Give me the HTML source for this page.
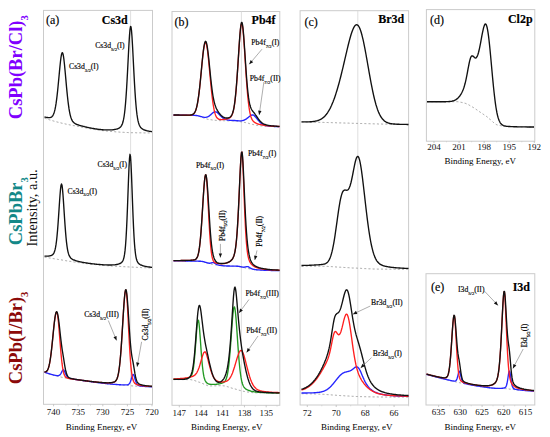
<!DOCTYPE html>
<html><head><meta charset="utf-8"><style>
html,body{margin:0;padding:0;background:#fff;overflow:hidden;}
svg{display:block;}
text{font-family:"Liberation Serif", serif;}
</style></head><body>
<svg width="550" height="437" viewBox="0 0 550 437">
<rect width="550" height="437" fill="#fff"/>
<rect x="43.5" y="10.4" width="109.00" height="393.90" fill="none" stroke="#cbcbcb" stroke-width="1"/>
<rect x="172.0" y="11.5" width="107.80" height="393.80" fill="none" stroke="#cbcbcb" stroke-width="1"/>
<rect x="300.1" y="10.7" width="108.50" height="394.30" fill="none" stroke="#cbcbcb" stroke-width="1"/>
<rect x="426.4" y="9.6" width="108.40" height="131.60" fill="none" stroke="#cbcbcb" stroke-width="1"/>
<rect x="426" y="273.7" width="108.80" height="131.30" fill="none" stroke="#cbcbcb" stroke-width="1"/>
<line x1="130.6" y1="11" x2="130.6" y2="404.3" stroke="#d6d6d6" stroke-width="0.8"/>
<line x1="241.4" y1="11.3" x2="241.4" y2="405" stroke="#d6d6d6" stroke-width="0.8"/>
<line x1="357.8" y1="10.8" x2="357.8" y2="405" stroke="#d6d6d6" stroke-width="0.8"/>
<path d="M44.5 118.1L45.0 118.3L45.5 118.5L46.0 118.6L46.5 118.8L47.0 119.0L47.5 119.1L48.0 119.3L48.5 119.4L49.0 119.6L49.5 119.8L50.0 119.9L50.5 120.1L51.0 120.2L51.5 120.4L52.0 120.5L52.5 120.7L53.0 120.8L53.5 121.0L54.0 121.1L54.5 121.3L55.0 121.4L55.5 121.5L56.0 121.7L56.5 121.8L57.0 121.9L57.5 122.1L58.0 122.2L58.5 122.3L59.0 122.5L59.5 122.6L60.0 122.7L60.5 122.8L61.0 122.9L61.5 123.1L62.0 123.2L62.5 123.3L63.0 123.4L63.5 123.5L64.0 123.6L64.5 123.7L65.0 123.8L65.5 124.0L66.0 124.1L66.5 124.2L67.0 124.3L67.5 124.4L68.0 124.5L68.5 124.6L69.0 124.7L69.5 124.8L70.0 124.9L70.5 125.0L71.0 125.1L71.5 125.2L72.0 125.3L72.5 125.4L73.0 125.5L73.5 125.6L74.0 125.7L74.5 125.7L75.0 125.8L75.5 125.9L76.0 126.0L76.5 126.1L77.0 126.2L77.5 126.3L78.0 126.4L78.5 126.5L79.0 126.6L79.5 126.7L80.0 126.8L80.5 126.9L81.0 127.0L81.5 127.1L82.0 127.2L82.5 127.3L83.0 127.4L83.5 127.4L84.0 127.5L84.5 127.6L85.0 127.7L85.5 127.8L86.0 127.9L86.5 128.0L87.0 128.1L87.5 128.2L88.0 128.3L88.5 128.4L89.0 128.5L89.5 128.6L90.0 128.7L90.5 128.8L91.0 128.9L91.5 129.0L92.0 129.1L92.5 129.1L93.0 129.2L93.5 129.3L94.0 129.4L94.5 129.5L95.0 129.6L95.5 129.7L96.0 129.7L96.5 129.8L97.0 129.9L97.5 130.0L98.0 130.0L98.5 130.1L99.0 130.2L99.5 130.3L100.0 130.3L100.5 130.4L101.0 130.5L101.5 130.5L102.0 130.6L102.5 130.6L103.0 130.7L103.5 130.7L104.0 130.8L104.5 130.9L105.0 130.9L105.5 130.9L106.0 131.0L106.5 131.0L107.0 131.1L107.5 131.1L108.0 131.2L108.5 131.2L109.0 131.3L109.5 131.3L110.0 131.4L110.5 131.4L111.0 131.4L111.5 131.5L112.0 131.5L112.5 131.6L113.0 131.6L113.5 131.6L114.0 131.7L114.5 131.7L115.0 131.8L115.5 131.8L116.0 131.8L116.5 131.9L117.0 131.9L117.5 132.0L118.0 132.0L118.5 132.0L119.0 132.1L119.5 132.1L120.0 132.1L120.5 132.2L121.0 132.2L121.5 132.2L122.0 132.3L122.5 132.3L123.0 132.3L123.5 132.3L124.0 132.4L124.5 132.4L125.0 132.4L125.5 132.4L126.0 132.5L126.5 132.5L127.0 132.5L127.5 132.5L128.0 132.6L128.5 132.6L129.0 132.6L129.5 132.6L130.0 132.6L130.5 132.6L131.0 132.7L131.5 132.7L132.0 132.7L132.5 132.7L133.0 132.7L133.5 132.7L134.0 132.7L134.5 132.7L135.0 132.7L135.5 132.7L136.0 132.7L136.5 132.8L137.0 132.8L137.5 132.8L138.0 132.8L138.5 132.8L139.0 132.8L139.5 132.8L140.0 132.8L140.5 132.8L141.0 132.8L141.5 132.8L142.0 132.8L142.5 132.8L143.0 132.8L143.5 132.9L144.0 132.9L144.5 132.9L145.0 132.9L145.5 132.9L146.0 132.9L146.5 132.9L147.0 132.9L147.5 132.9L148.0 132.9L148.5 132.9L149.0 132.9L149.5 132.9L150.0 132.9L150.5 132.9L151.0 132.9L151.5 132.9L152.0 132.9" fill="none" stroke="#8a8a8a" stroke-width="0.8" stroke-dasharray="2,2.2"/>
<path d="M44.5 117.0L45.0 117.1L45.5 117.2L46.0 117.3L46.5 117.4L47.0 117.5L47.5 117.5L48.0 117.6L48.5 117.6L49.0 117.6L49.5 117.6L50.0 117.6L50.5 117.4L51.0 117.3L51.5 117.0L52.0 116.6L52.5 116.1L53.0 115.3L53.5 114.3L54.0 113.0L54.5 111.4L55.0 109.4L55.5 106.9L56.0 103.9L56.5 100.4L57.0 96.4L57.5 91.9L58.0 87.0L58.5 81.8L59.0 76.5L59.5 71.1L60.0 66.0L60.5 61.3L61.0 57.4L61.5 54.5L62.0 52.9L62.5 52.7L63.0 54.0L63.5 56.5L64.0 60.2L64.5 64.8L65.0 70.0L65.5 75.5L66.0 81.1L66.5 86.7L67.0 91.9L67.5 96.8L68.0 101.3L68.5 105.2L69.0 108.7L69.5 111.6L70.0 114.1L70.5 116.1L71.0 117.8L71.5 119.1L72.0 120.2L72.5 121.1L73.0 121.8L73.5 122.3L74.0 122.8L74.5 123.2L75.0 123.5L75.5 123.8L76.0 124.0L76.5 124.3L77.0 124.5L77.5 124.6L78.0 124.8L78.5 125.0L79.0 125.2L79.5 125.3L80.0 125.5L80.5 125.6L81.0 125.8L81.5 125.9L82.0 126.0L82.5 126.2L83.0 126.3L83.5 126.4L84.0 126.5L84.5 126.7L85.0 126.8L85.5 126.9L86.0 127.0L86.5 127.1L87.0 127.3L87.5 127.4L88.0 127.5L88.5 127.6L89.0 127.7L89.5 127.8L90.0 127.9L90.5 128.0L91.0 128.1L91.5 128.2L92.0 128.3L92.5 128.4L93.0 128.5L93.5 128.5L94.0 128.6L94.5 128.7L95.0 128.8L95.5 128.9L96.0 129.0L96.5 129.0L97.0 129.1L97.5 129.2L98.0 129.2L98.5 129.3L99.0 129.4L99.5 129.4L100.0 129.5L100.5 129.5L101.0 129.6L101.5 129.6L102.0 129.7L102.5 129.7L103.0 129.7L103.5 129.8L104.0 129.8L104.5 129.8L105.0 129.9L105.5 129.9L106.0 129.9L106.5 129.9L107.0 129.9L107.5 129.9L108.0 129.9L108.5 129.9L109.0 129.9L109.5 129.9L110.0 129.9L110.5 129.9L111.0 129.9L111.5 129.8L112.0 129.8L112.5 129.8L113.0 129.7L113.5 129.7L114.0 129.6L114.5 129.5L115.0 129.4L115.5 129.3L116.0 129.2L116.5 129.1L117.0 129.0L117.5 128.8L118.0 128.6L118.5 128.4L119.0 128.1L119.5 127.8L120.0 127.4L120.5 127.0L121.0 126.4L121.5 125.6L122.0 124.7L122.5 123.5L123.0 121.8L123.5 119.7L124.0 117.0L124.5 113.5L125.0 109.1L125.5 103.8L126.0 97.4L126.5 90.0L127.0 81.5L127.5 72.3L128.0 62.5L128.5 52.7L129.0 43.4L129.5 35.4L130.0 29.5L130.5 26.5L131.0 26.9L131.5 30.5L132.0 36.9L132.5 45.3L133.0 54.8L133.5 64.7L134.0 74.4L134.5 83.5L135.0 91.8L135.5 99.1L136.0 105.3L136.5 110.5L137.0 114.7L137.5 118.0L138.0 120.7L138.5 122.7L139.0 124.3L139.5 125.5L140.0 126.4L140.5 127.2L141.0 127.8L141.5 128.3L142.0 128.7L142.5 129.0L143.0 129.3L143.5 129.6L144.0 129.8L144.5 130.0L145.0 130.2L145.5 130.4L146.0 130.5L146.5 130.7L147.0 130.8L147.5 130.9L148.0 131.0L148.5 131.1L149.0 131.2L149.5 131.3L150.0 131.4L150.5 131.4L151.0 131.5L151.5 131.6L152.0 131.6" fill="none" stroke="#111" stroke-width="1.35" stroke-linejoin="round"/>
<path d="M44.5 257.1L45.0 257.2L45.5 257.3L46.0 257.4L46.5 257.5L47.0 257.5L47.5 257.6L48.0 257.7L48.5 257.8L49.0 257.9L49.5 258.0L50.0 258.1L50.5 258.1L51.0 258.2L51.5 258.3L52.0 258.4L52.5 258.5L53.0 258.6L53.5 258.6L54.0 258.7L54.5 258.8L55.0 258.9L55.5 259.0L56.0 259.0L56.5 259.1L57.0 259.2L57.5 259.3L58.0 259.4L58.5 259.5L59.0 259.5L59.5 259.6L60.0 259.7L60.5 259.8L61.0 259.9L61.5 259.9L62.0 260.0L62.5 260.1L63.0 260.2L63.5 260.3L64.0 260.4L64.5 260.4L65.0 260.5L65.5 260.6L66.0 260.7L66.5 260.8L67.0 260.8L67.5 260.9L68.0 261.0L68.5 261.1L69.0 261.2L69.5 261.3L70.0 261.3L70.5 261.4L71.0 261.5L71.5 261.6L72.0 261.7L72.5 261.7L73.0 261.8L73.5 261.9L74.0 262.0L74.5 262.0L75.0 262.1L75.5 262.2L76.0 262.3L76.5 262.3L77.0 262.4L77.5 262.5L78.0 262.5L78.5 262.6L79.0 262.7L79.5 262.7L80.0 262.8L80.5 262.9L81.0 262.9L81.5 263.0L82.0 263.0L82.5 263.1L83.0 263.2L83.5 263.2L84.0 263.3L84.5 263.4L85.0 263.4L85.5 263.5L86.0 263.6L86.5 263.6L87.0 263.7L87.5 263.7L88.0 263.8L88.5 263.9L89.0 263.9L89.5 264.0L90.0 264.0L90.5 264.1L91.0 264.1L91.5 264.2L92.0 264.3L92.5 264.3L93.0 264.4L93.5 264.4L94.0 264.5L94.5 264.5L95.0 264.6L95.5 264.6L96.0 264.7L96.5 264.7L97.0 264.8L97.5 264.8L98.0 264.9L98.5 264.9L99.0 265.0L99.5 265.0L100.0 265.1L100.5 265.1L101.0 265.2L101.5 265.2L102.0 265.3L102.5 265.3L103.0 265.3L103.5 265.4L104.0 265.4L104.5 265.5L105.0 265.5L105.5 265.5L106.0 265.6L106.5 265.6L107.0 265.7L107.5 265.7L108.0 265.7L108.5 265.8L109.0 265.8L109.5 265.8L110.0 265.9L110.5 265.9L111.0 265.9L111.5 266.0L112.0 266.0L112.5 266.0L113.0 266.1L113.5 266.1L114.0 266.1L114.5 266.2L115.0 266.2L115.5 266.2L116.0 266.2L116.5 266.3L117.0 266.3L117.5 266.3L118.0 266.4L118.5 266.4L119.0 266.4L119.5 266.4L120.0 266.5L120.5 266.5L121.0 266.5L121.5 266.6L122.0 266.6L122.5 266.6L123.0 266.6L123.5 266.7L124.0 266.7L124.5 266.7L125.0 266.7L125.5 266.8L126.0 266.8L126.5 266.8L127.0 266.8L127.5 266.9L128.0 266.9L128.5 266.9L129.0 266.9L129.5 267.0L130.0 267.0L130.5 267.0L131.0 267.1L131.5 267.1L132.0 267.1L132.5 267.1L133.0 267.2L133.5 267.2L134.0 267.2L134.5 267.2L135.0 267.2L135.5 267.3L136.0 267.3L136.5 267.3L137.0 267.3L137.5 267.4L138.0 267.4L138.5 267.4L139.0 267.4L139.5 267.5L140.0 267.5L140.5 267.5L141.0 267.5L141.5 267.6L142.0 267.6L142.5 267.6L143.0 267.6L143.5 267.6L144.0 267.7L144.5 267.7L145.0 267.7L145.5 267.7L146.0 267.7L146.5 267.8L147.0 267.8L147.5 267.8L148.0 267.8L148.5 267.9L149.0 267.9L149.5 267.9L150.0 267.9L150.5 267.9L151.0 268.0L151.5 268.0L152.0 268.0" fill="none" stroke="#8a8a8a" stroke-width="0.8" stroke-dasharray="2,2.2"/>
<path d="M44.5 256.1L45.0 256.1L45.5 256.1L46.0 256.1L46.5 256.1L47.0 256.1L47.5 256.1L48.0 256.1L48.5 256.1L49.0 256.0L49.5 255.9L50.0 255.9L50.5 255.7L51.0 255.6L51.5 255.4L52.0 255.2L52.5 254.8L53.0 254.4L53.5 253.7L54.0 252.8L54.5 251.6L55.0 249.9L55.5 247.7L56.0 244.7L56.5 241.0L57.0 236.4L57.5 230.9L58.0 224.5L58.5 217.4L59.0 209.9L59.5 202.3L60.0 195.3L60.5 189.4L61.0 185.4L61.5 183.9L62.0 185.2L62.5 189.1L63.0 195.0L63.5 202.1L64.0 209.8L64.5 217.5L65.0 224.8L65.5 231.4L66.0 237.2L66.5 242.1L67.0 246.1L67.5 249.3L68.0 251.8L68.5 253.7L69.0 255.1L69.5 256.2L70.0 257.0L70.5 257.7L71.0 258.2L71.5 258.6L72.0 259.0L72.5 259.3L73.0 259.6L73.5 259.8L74.0 260.0L74.5 260.2L75.0 260.4L75.5 260.6L76.0 260.8L76.5 260.9L77.0 261.1L77.5 261.2L78.0 261.3L78.5 261.4L79.0 261.6L79.5 261.7L80.0 261.8L80.5 261.9L81.0 262.0L81.5 262.1L82.0 262.2L82.5 262.3L83.0 262.4L83.5 262.5L84.0 262.6L84.5 262.6L85.0 262.7L85.5 262.8L86.0 262.9L86.5 263.0L87.0 263.0L87.5 263.1L88.0 263.2L88.5 263.3L89.0 263.3L89.5 263.4L90.0 263.5L90.5 263.5L91.0 263.6L91.5 263.7L92.0 263.7L92.5 263.8L93.0 263.8L93.5 263.9L94.0 263.9L94.5 264.0L95.0 264.1L95.5 264.1L96.0 264.2L96.5 264.2L97.0 264.3L97.5 264.3L98.0 264.4L98.5 264.4L99.0 264.4L99.5 264.5L100.0 264.5L100.5 264.6L101.0 264.6L101.5 264.6L102.0 264.7L102.5 264.7L103.0 264.7L103.5 264.8L104.0 264.8L104.5 264.8L105.0 264.8L105.5 264.9L106.0 264.9L106.5 264.9L107.0 264.9L107.5 264.9L108.0 265.0L108.5 265.0L109.0 265.0L109.5 265.0L110.0 265.0L110.5 265.0L111.0 265.0L111.5 265.0L112.0 264.9L112.5 264.9L113.0 264.9L113.5 264.9L114.0 264.8L114.5 264.8L115.0 264.8L115.5 264.7L116.0 264.6L116.5 264.5L117.0 264.5L117.5 264.4L118.0 264.2L118.5 264.1L119.0 263.9L119.5 263.7L120.0 263.5L120.5 263.3L121.0 262.9L121.5 262.6L122.0 262.1L122.5 261.4L123.0 260.5L123.5 259.2L124.0 257.3L124.5 254.7L125.0 250.9L125.5 245.7L126.0 238.8L126.5 229.9L127.0 219.1L127.5 206.7L128.0 193.1L128.5 179.5L129.0 167.3L129.5 158.3L130.0 154.3L130.5 156.3L131.0 163.7L131.5 175.0L132.0 188.4L132.5 202.1L133.0 215.1L133.5 226.6L134.0 236.2L134.5 243.9L135.0 249.7L135.5 254.0L136.0 257.1L136.5 259.3L137.0 260.8L137.5 261.9L138.0 262.7L138.5 263.3L139.0 263.8L139.5 264.1L140.0 264.5L140.5 264.8L141.0 265.0L141.5 265.2L142.0 265.4L142.5 265.6L143.0 265.8L143.5 265.9L144.0 266.1L144.5 266.2L145.0 266.3L145.5 266.4L146.0 266.5L146.5 266.6L147.0 266.7L147.5 266.8L148.0 266.8L148.5 266.9L149.0 267.0L149.5 267.0L150.0 267.1L150.5 267.2L151.0 267.2L151.5 267.3L152.0 267.3" fill="none" stroke="#111" stroke-width="1.35" stroke-linejoin="round"/>
<path d="M44.5 372.3L45.0 372.4L45.5 372.6L46.0 372.8L46.5 373.0L47.0 373.2L47.5 373.3L48.0 373.5L48.5 373.7L49.0 373.8L49.5 374.0L50.0 374.1L50.5 374.3L51.0 374.4L51.5 374.6L52.0 374.7L52.5 374.9L53.0 375.0L53.5 375.2L54.0 375.3L54.5 375.4L55.0 375.6L55.5 375.7L56.0 375.8L56.5 376.0L57.0 376.1L57.5 376.2L58.0 376.3L58.5 376.5L59.0 376.6L59.5 376.7L60.0 376.8L60.5 376.9L61.0 377.0L61.5 377.2L62.0 377.3L62.5 377.4L63.0 377.5L63.5 377.6L64.0 377.7L64.5 377.8L65.0 377.9L65.5 378.0L66.0 378.1L66.5 378.2L67.0 378.3L67.5 378.3L68.0 378.4L68.5 378.5L69.0 378.6L69.5 378.7L70.0 378.8L70.5 378.9L71.0 378.9L71.5 379.0L72.0 379.1L72.5 379.2L73.0 379.2L73.5 379.3L74.0 379.4L74.5 379.5L75.0 379.5L75.5 379.6L76.0 379.7L76.5 379.7L77.0 379.8L77.5 379.9L78.0 380.0L78.5 380.0L79.0 380.1L79.5 380.2L80.0 380.2L80.5 380.3L81.0 380.4L81.5 380.4L82.0 380.5L82.5 380.6L83.0 380.6L83.5 380.7L84.0 380.8L84.5 380.9L85.0 380.9L85.5 381.0L86.0 381.1L86.5 381.1L87.0 381.2L87.5 381.3L88.0 381.3L88.5 381.4L89.0 381.5L89.5 381.5L90.0 381.6L90.5 381.7L91.0 381.7L91.5 381.8L92.0 381.9L92.5 381.9L93.0 382.0L93.5 382.1L94.0 382.1L94.5 382.2L95.0 382.3L95.5 382.3L96.0 382.4L96.5 382.5L97.0 382.5L97.5 382.6L98.0 382.6L98.5 382.7L99.0 382.8L99.5 382.8L100.0 382.9L100.5 383.0L101.0 383.0L101.5 383.1L102.0 383.1L102.5 383.2L103.0 383.3L103.5 383.3L104.0 383.4L104.5 383.4L105.0 383.5L105.5 383.5L106.0 383.6L106.5 383.6L107.0 383.7L107.5 383.7L108.0 383.8L108.5 383.9L109.0 383.9L109.5 384.0L110.0 384.0L110.5 384.0L111.0 384.1L111.5 384.1L112.0 384.2L112.5 384.2L113.0 384.3L113.5 384.3L114.0 384.4L114.5 384.4L115.0 384.4L115.5 384.5L116.0 384.5L116.5 384.6L117.0 384.6L117.5 384.7L118.0 384.7L118.5 384.7L119.0 384.8L119.5 384.8L120.0 384.9L120.5 384.9L121.0 384.9L121.5 385.0L122.0 385.0L122.5 385.0L123.0 385.1L123.5 385.1L124.0 385.2L124.5 385.2L125.0 385.2L125.5 385.3L126.0 385.3L126.5 385.4L127.0 385.4L127.5 385.4L128.0 385.5L128.5 385.5L129.0 385.6L129.5 385.6L130.0 385.6L130.5 385.7L131.0 385.7L131.5 385.8L132.0 385.8L132.5 385.9L133.0 385.9L133.5 385.9L134.0 386.0L134.5 386.0L135.0 386.1L135.5 386.1L136.0 386.1L136.5 386.2L137.0 386.2L137.5 386.2L138.0 386.3L138.5 386.3L139.0 386.3L139.5 386.3L140.0 386.4L140.5 386.4L141.0 386.4L141.5 386.4L142.0 386.5L142.5 386.5L143.0 386.5L143.5 386.5L144.0 386.5L144.5 386.6L145.0 386.6L145.5 386.6L146.0 386.6L146.5 386.6L147.0 386.7L147.5 386.7L148.0 386.7L148.5 386.7L149.0 386.7L149.5 386.7L150.0 386.7L150.5 386.8L151.0 386.8L151.5 386.8L152.0 386.8" fill="none" stroke="#8a8a8a" stroke-width="0.8" stroke-dasharray="2,2.2"/>
<path d="M44.5 372.2L45.0 372.4L45.5 372.6L46.0 372.7L46.5 372.9L47.0 373.1L47.5 373.2L48.0 373.4L48.5 373.6L49.0 373.7L49.5 373.9L50.0 374.0L50.5 374.2L51.0 374.3L51.5 374.4L52.0 374.6L52.5 374.7L53.0 374.8L53.5 375.0L54.0 375.1L54.5 375.2L55.0 375.3L55.5 375.4L56.0 375.5L56.5 375.6L57.0 375.6L57.5 375.7L58.0 375.7L58.5 375.6L59.0 375.4L59.5 375.2L60.0 374.7L60.5 374.1L61.0 373.3L61.5 372.4L62.0 371.4L62.5 370.5L63.0 369.9L63.5 369.8L64.0 370.3L64.5 371.3L65.0 372.5L65.5 373.7L66.0 374.7L66.5 375.7L67.0 376.4L67.5 377.0L68.0 377.4L68.5 377.7L69.0 378.0L69.5 378.2L70.0 378.3L70.5 378.5L71.0 378.6L71.5 378.7L72.0 378.8L72.5 378.9L73.0 379.0L73.5 379.1L74.0 379.2L74.5 379.3L75.0 379.4L75.5 379.5L76.0 379.5L76.5 379.6L77.0 379.7L77.5 379.8L78.0 379.9L78.5 379.9L79.0 380.0L79.5 380.1L80.0 380.2L80.5 380.2L81.0 380.3L81.5 380.4L82.0 380.4L82.5 380.5L83.0 380.6L83.5 380.7L84.0 380.7L84.5 380.8L85.0 380.9L85.5 380.9L86.0 381.0L86.5 381.1L87.0 381.2L87.5 381.2L88.0 381.3L88.5 381.4L89.0 381.4L89.5 381.5L90.0 381.6L90.5 381.6L91.0 381.7L91.5 381.8L92.0 381.8L92.5 381.9L93.0 382.0L93.5 382.0L94.0 382.1L94.5 382.2L95.0 382.2L95.5 382.3L96.0 382.4L96.5 382.4L97.0 382.5L97.5 382.6L98.0 382.6L98.5 382.7L99.0 382.7L99.5 382.8L100.0 382.9L100.5 382.9L101.0 383.0L101.5 383.0L102.0 383.1L102.5 383.2L103.0 383.2L103.5 383.3L104.0 383.3L104.5 383.4L105.0 383.4L105.5 383.5L106.0 383.5L106.5 383.6L107.0 383.7L107.5 383.7L108.0 383.8L108.5 383.8L109.0 383.9L109.5 383.9L110.0 383.9L110.5 384.0L111.0 384.0L111.5 384.1L112.0 384.1L112.5 384.2L113.0 384.2L113.5 384.3L114.0 384.3L114.5 384.3L115.0 384.4L115.5 384.4L116.0 384.5L116.5 384.5L117.0 384.5L117.5 384.6L118.0 384.6L118.5 384.6L119.0 384.7L119.5 384.7L120.0 384.7L120.5 384.7L121.0 384.8L121.5 384.8L122.0 384.8L122.5 384.9L123.0 384.9L123.5 384.9L124.0 384.9L124.5 384.9L125.0 384.9L125.5 384.9L126.0 384.9L126.5 384.9L127.0 384.8L127.5 384.8L128.0 384.6L128.5 384.4L129.0 384.0L129.5 383.4L130.0 382.6L130.5 381.4L131.0 380.0L131.5 378.3L132.0 376.7L132.5 375.2L133.0 374.5L133.5 374.6L134.0 375.6L134.5 377.2L135.0 379.0L135.5 380.7L136.0 382.1L136.5 383.3L137.0 384.2L137.5 384.8L138.0 385.2L138.5 385.5L139.0 385.7L139.5 385.8L140.0 385.9L140.5 386.0L141.0 386.1L141.5 386.1L142.0 386.2L142.5 386.2L143.0 386.3L143.5 386.3L144.0 386.4L144.5 386.4L145.0 386.4L145.5 386.5L146.0 386.5L146.5 386.5L147.0 386.5L147.5 386.6L148.0 386.6L148.5 386.6L149.0 386.6L149.5 386.7L150.0 386.7L150.5 386.7L151.0 386.7L151.5 386.7L152.0 386.7" fill="none" stroke="#2424ff" stroke-width="1.35" stroke-linejoin="round"/>
<path d="M44.5 371.9L45.0 371.9L45.5 371.8L46.0 371.7L46.5 371.4L47.0 370.9L47.5 370.1L48.0 369.1L48.5 367.8L49.0 366.0L49.5 363.8L50.0 361.1L50.5 357.9L51.0 354.2L51.5 350.0L52.0 345.5L52.5 340.6L53.0 335.6L53.5 330.5L54.0 325.8L54.5 321.4L55.0 317.7L55.5 314.8L56.0 312.9L56.5 312.1L57.0 312.5L57.5 314.6L58.0 318.1L58.5 323.0L59.0 328.7L59.5 335.0L60.0 341.4L60.5 347.6L61.0 353.5L61.5 358.7L62.0 363.2L62.5 366.9L63.0 369.9L63.5 372.2L64.0 374.0L64.5 375.3L65.0 376.2L65.5 376.9L66.0 377.4L66.5 377.7L67.0 377.9L67.5 378.1L68.0 378.3L68.5 378.4L69.0 378.5L69.5 378.6L70.0 378.7L70.5 378.7L71.0 378.8L71.5 378.9L72.0 379.0L72.5 379.1L73.0 379.1L73.5 379.2L74.0 379.3L74.5 379.3L75.0 379.4L75.5 379.5L76.0 379.5L76.5 379.6L77.0 379.7L77.5 379.8L78.0 379.8L78.5 379.9L79.0 379.9L79.5 380.0L80.0 380.1L80.5 380.1L81.0 380.2L81.5 380.3L82.0 380.3L82.5 380.4L83.0 380.5L83.5 380.5L84.0 380.6L84.5 380.7L85.0 380.7L85.5 380.8L86.0 380.9L86.5 380.9L87.0 381.0L87.5 381.0L88.0 381.1L88.5 381.2L89.0 381.2L89.5 381.3L90.0 381.4L90.5 381.4L91.0 381.5L91.5 381.5L92.0 381.6L92.5 381.6L93.0 381.7L93.5 381.8L94.0 381.8L94.5 381.9L95.0 381.9L95.5 382.0L96.0 382.0L96.5 382.1L97.0 382.1L97.5 382.2L98.0 382.2L98.5 382.3L99.0 382.3L99.5 382.4L100.0 382.4L100.5 382.5L101.0 382.5L101.5 382.5L102.0 382.6L102.5 382.6L103.0 382.6L103.5 382.7L104.0 382.7L104.5 382.7L105.0 382.7L105.5 382.8L106.0 382.8L106.5 382.8L107.0 382.8L107.5 382.8L108.0 382.8L108.5 382.8L109.0 382.8L109.5 382.8L110.0 382.8L110.5 382.7L111.0 382.7L111.5 382.7L112.0 382.6L112.5 382.5L113.0 382.4L113.5 382.3L114.0 382.1L114.5 381.9L115.0 381.6L115.5 381.2L116.0 380.6L116.5 379.8L117.0 378.8L117.5 377.4L118.0 375.6L118.5 373.2L119.0 370.1L119.5 366.4L120.0 361.8L120.5 356.4L121.0 350.1L121.5 343.1L122.0 335.4L122.5 327.3L123.0 319.1L123.5 311.1L124.0 303.7L124.5 297.5L125.0 292.9L125.5 290.4L126.0 290.1L126.5 293.0L127.0 298.8L127.5 307.0L128.0 316.5L128.5 326.6L129.0 336.5L129.5 345.8L130.0 354.2L130.5 361.3L131.0 367.1L131.5 371.7L132.0 375.3L132.5 377.9L133.0 379.8L133.5 381.2L134.0 382.2L134.5 382.9L135.0 383.4L135.5 383.8L136.0 384.1L136.5 384.3L137.0 384.5L137.5 384.7L138.0 384.9L138.5 385.0L139.0 385.1L139.5 385.2L140.0 385.3L140.5 385.4L141.0 385.5L141.5 385.6L142.0 385.6L142.5 385.7L143.0 385.8L143.5 385.8L144.0 385.9L144.5 385.9L145.0 386.0L145.5 386.0L146.0 386.1L146.5 386.1L147.0 386.2L147.5 386.2L148.0 386.3L148.5 386.3L149.0 386.3L149.5 386.4L150.0 386.4L150.5 386.4L151.0 386.4L151.5 386.5L152.0 386.5" fill="none" stroke="#ff1f1f" stroke-width="1.35" stroke-linejoin="round"/>
<path d="M44.5 371.8L45.0 371.8L45.5 371.8L46.0 371.6L46.5 371.3L47.0 370.8L47.5 370.1L48.0 369.0L48.5 367.7L49.0 365.9L49.5 363.7L50.0 361.0L50.5 357.8L51.0 354.1L51.5 349.9L52.0 345.3L52.5 340.4L53.0 335.4L53.5 330.3L54.0 325.5L54.5 321.2L55.0 317.4L55.5 314.5L56.0 312.5L56.5 311.7L57.0 311.9L57.5 313.3L58.0 315.6L58.5 318.9L59.0 322.8L59.5 327.1L60.0 331.7L60.5 336.3L61.0 340.7L61.5 344.7L62.0 348.3L62.5 351.5L63.0 354.6L63.5 357.7L64.0 360.9L64.5 364.1L65.0 367.1L65.5 369.7L66.0 371.8L66.5 373.6L67.0 374.9L67.5 375.9L68.0 376.7L68.5 377.2L69.0 377.6L69.5 377.9L70.0 378.1L70.5 378.3L71.0 378.4L71.5 378.6L72.0 378.7L72.5 378.8L73.0 378.9L73.5 379.0L74.0 379.1L74.5 379.2L75.0 379.3L75.5 379.3L76.0 379.4L76.5 379.5L77.0 379.6L77.5 379.6L78.0 379.7L78.5 379.8L79.0 379.9L79.5 379.9L80.0 380.0L80.5 380.1L81.0 380.1L81.5 380.2L82.0 380.3L82.5 380.3L83.0 380.4L83.5 380.5L84.0 380.5L84.5 380.6L85.0 380.7L85.5 380.7L86.0 380.8L86.5 380.9L87.0 380.9L87.5 381.0L88.0 381.1L88.5 381.1L89.0 381.2L89.5 381.3L90.0 381.3L90.5 381.4L91.0 381.4L91.5 381.5L92.0 381.6L92.5 381.6L93.0 381.7L93.5 381.7L94.0 381.8L94.5 381.8L95.0 381.9L95.5 381.9L96.0 382.0L96.5 382.1L97.0 382.1L97.5 382.2L98.0 382.2L98.5 382.2L99.0 382.3L99.5 382.3L100.0 382.4L100.5 382.4L101.0 382.5L101.5 382.5L102.0 382.5L102.5 382.6L103.0 382.6L103.5 382.6L104.0 382.7L104.5 382.7L105.0 382.7L105.5 382.7L106.0 382.7L106.5 382.8L107.0 382.8L107.5 382.8L108.0 382.8L108.5 382.8L109.0 382.8L109.5 382.7L110.0 382.7L110.5 382.7L111.0 382.6L111.5 382.6L112.0 382.5L112.5 382.5L113.0 382.3L113.5 382.2L114.0 382.0L114.5 381.8L115.0 381.5L115.5 381.1L116.0 380.5L116.5 379.7L117.0 378.7L117.5 377.3L118.0 375.4L118.5 373.1L119.0 370.0L119.5 366.3L120.0 361.7L120.5 356.2L121.0 350.0L121.5 342.9L122.0 335.2L122.5 327.1L123.0 318.9L123.5 310.8L124.0 303.5L124.5 297.3L125.0 292.6L125.5 290.0L126.0 289.6L126.5 291.5L127.0 295.5L127.5 301.2L128.0 308.1L128.5 315.8L129.0 323.6L129.5 331.2L130.0 338.3L130.5 344.4L131.0 349.5L131.5 353.6L132.0 356.8L132.5 359.5L133.0 362.0L133.5 364.8L134.0 367.8L134.5 370.9L135.0 373.9L135.5 376.5L136.0 378.6L136.5 380.3L137.0 381.5L137.5 382.4L138.0 383.1L138.5 383.6L139.0 383.9L139.5 384.2L140.0 384.4L140.5 384.6L141.0 384.7L141.5 384.9L142.0 385.0L142.5 385.1L143.0 385.2L143.5 385.3L144.0 385.4L144.5 385.5L145.0 385.6L145.5 385.6L146.0 385.7L146.5 385.8L147.0 385.8L147.5 385.9L148.0 385.9L148.5 386.0L149.0 386.0L149.5 386.1L150.0 386.1L150.5 386.2L151.0 386.2L151.5 386.2L152.0 386.3" fill="none" stroke="#111" stroke-width="1.35" stroke-linejoin="round"/>
<path d="M173.5 115.2L174.0 115.2L174.5 115.2L175.0 115.2L175.5 115.2L176.0 115.2L176.5 115.2L177.0 115.2L177.5 115.2L178.0 115.2L178.5 115.2L179.0 115.2L179.5 115.2L180.0 115.2L180.5 115.2L181.0 115.3L181.5 115.3L182.0 115.3L182.5 115.3L183.0 115.3L183.5 115.3L184.0 115.3L184.5 115.3L185.0 115.3L185.5 115.3L186.0 115.3L186.5 115.4L187.0 115.4L187.5 115.4L188.0 115.4L188.5 115.4L189.0 115.4L189.5 115.4L190.0 115.4L190.5 115.5L191.0 115.5L191.5 115.5L192.0 115.5L192.5 115.5L193.0 115.5L193.5 115.5L194.0 115.6L194.5 115.6L195.0 115.6L195.5 115.6L196.0 115.7L196.5 115.7L197.0 115.8L197.5 115.9L198.0 116.0L198.5 116.2L199.0 116.3L199.5 116.5L200.0 116.6L200.5 116.8L201.0 117.0L201.5 117.2L202.0 117.3L202.5 117.5L203.0 117.7L203.5 117.9L204.0 118.1L204.5 118.2L205.0 118.4L205.5 118.6L206.0 118.7L206.5 118.9L207.0 119.0L207.5 119.2L208.0 119.3L208.5 119.4L209.0 119.4L209.5 119.5L210.0 119.6L210.5 119.7L211.0 119.8L211.5 119.8L212.0 119.9L212.5 120.0L213.0 120.0L213.5 120.1L214.0 120.2L214.5 120.2L215.0 120.3L215.5 120.3L216.0 120.4L216.5 120.4L217.0 120.5L217.5 120.5L218.0 120.5L218.5 120.5L219.0 120.6L219.5 120.6L220.0 120.6L220.5 120.6L221.0 120.6L221.5 120.6L222.0 120.7L222.5 120.7L223.0 120.7L223.5 120.7L224.0 120.7L224.5 120.7L225.0 120.7L225.5 120.7L226.0 120.7L226.5 120.7L227.0 120.8L227.5 120.8L228.0 120.8L228.5 120.8L229.0 120.8L229.5 120.8L230.0 120.8L230.5 120.8L231.0 120.8L231.5 120.9L232.0 120.9L232.5 120.9L233.0 120.9L233.5 120.9L234.0 121.0L234.5 121.0L235.0 121.0L235.5 121.0L236.0 121.1L236.5 121.1L237.0 121.2L237.5 121.2L238.0 121.3L238.5 121.4L239.0 121.4L239.5 121.5L240.0 121.6L240.5 121.7L241.0 121.8L241.5 121.9L242.0 121.9L242.5 122.0L243.0 122.1L243.5 122.2L244.0 122.3L244.5 122.4L245.0 122.5L245.5 122.6L246.0 122.7L246.5 122.8L247.0 122.9L247.5 123.0L248.0 123.2L248.5 123.3L249.0 123.4L249.5 123.6L250.0 123.7L250.5 123.8L251.0 124.0L251.5 124.1L252.0 124.2L252.5 124.4L253.0 124.5L253.5 124.6L254.0 124.7L254.5 124.9L255.0 125.0L255.5 125.1L256.0 125.2L256.5 125.3L257.0 125.4L257.5 125.4L258.0 125.5L258.5 125.6L259.0 125.6L259.5 125.7L260.0 125.7L260.5 125.8L261.0 125.8L261.5 125.9L262.0 125.9L262.5 126.0L263.0 126.0L263.5 126.1L264.0 126.1L264.5 126.2L265.0 126.2L265.5 126.2L266.0 126.3L266.5 126.3L267.0 126.3L267.5 126.4L268.0 126.4L268.5 126.4L269.0 126.5L269.5 126.5L270.0 126.5L270.5 126.5L271.0 126.5L271.5 126.6L272.0 126.6L272.5 126.6L273.0 126.6L273.5 126.6L274.0 126.7L274.5 126.7L275.0 126.7L275.5 126.7L276.0 126.7L276.5 126.7L277.0 126.8L277.5 126.8L278.0 126.8L278.5 126.8L279.0 126.8L279.5 126.8" fill="none" stroke="#8a8a8a" stroke-width="0.8" stroke-dasharray="2,2.2"/>
<path d="M173.5 115.1L174.0 115.1L174.5 115.1L175.0 115.1L175.5 115.1L176.0 115.1L176.5 115.1L177.0 115.1L177.5 115.2L178.0 115.2L178.5 115.2L179.0 115.2L179.5 115.2L180.0 115.2L180.5 115.2L181.0 115.2L181.5 115.2L182.0 115.2L182.5 115.2L183.0 115.2L183.5 115.2L184.0 115.2L184.5 115.2L185.0 115.2L185.5 115.2L186.0 115.2L186.5 115.2L187.0 115.3L187.5 115.3L188.0 115.3L188.5 115.3L189.0 115.3L189.5 115.3L190.0 115.3L190.5 115.3L191.0 115.3L191.5 115.3L192.0 115.3L192.5 115.4L193.0 115.4L193.5 115.4L194.0 115.4L194.5 115.4L195.0 115.4L195.5 115.4L196.0 115.5L196.5 115.5L197.0 115.6L197.5 115.7L198.0 115.8L198.5 115.9L199.0 116.0L199.5 116.2L200.0 116.3L200.5 116.4L201.0 116.6L201.5 116.7L202.0 116.8L202.5 117.0L203.0 117.1L203.5 117.2L204.0 117.3L204.5 117.3L205.0 117.4L205.5 117.4L206.0 117.3L206.5 117.2L207.0 117.1L207.5 116.9L208.0 116.7L208.5 116.4L209.0 116.1L209.5 115.7L210.0 115.3L210.5 114.9L211.0 114.4L211.5 114.0L212.0 113.5L212.5 113.1L213.0 112.7L213.5 112.4L214.0 112.1L214.5 111.9L215.0 111.8L215.5 111.8L216.0 111.9L216.5 112.1L217.0 112.4L217.5 112.7L218.0 113.2L218.5 113.7L219.0 114.2L219.5 114.7L220.0 115.2L220.5 115.8L221.0 116.3L221.5 116.8L222.0 117.2L222.5 117.7L223.0 118.0L223.5 118.4L224.0 118.7L224.5 119.0L225.0 119.2L225.5 119.4L226.0 119.6L226.5 119.7L227.0 119.9L227.5 120.0L228.0 120.1L228.5 120.1L229.0 120.2L229.5 120.2L230.0 120.3L230.5 120.3L231.0 120.4L231.5 120.4L232.0 120.4L232.5 120.4L233.0 120.5L233.5 120.5L234.0 120.5L234.5 120.5L235.0 120.5L235.5 120.6L236.0 120.6L236.5 120.6L237.0 120.7L237.5 120.7L238.0 120.7L238.5 120.8L239.0 120.8L239.5 120.8L240.0 120.8L240.5 120.8L241.0 120.8L241.5 120.8L242.0 120.7L242.5 120.6L243.0 120.5L243.5 120.4L244.0 120.2L244.5 120.0L245.0 119.7L245.5 119.4L246.0 119.1L246.5 118.8L247.0 118.4L247.5 118.0L248.0 117.6L248.5 117.2L249.0 116.7L249.5 116.3L250.0 116.0L250.5 115.6L251.0 115.3L251.5 115.1L252.0 115.0L252.5 115.0L253.0 115.0L253.5 115.2L254.0 115.5L254.5 115.9L255.0 116.4L255.5 116.9L256.0 117.5L256.5 118.1L257.0 118.7L257.5 119.3L258.0 120.0L258.5 120.6L259.0 121.1L259.5 121.7L260.0 122.2L260.5 122.7L261.0 123.1L261.5 123.5L262.0 123.9L262.5 124.2L263.0 124.5L263.5 124.7L264.0 125.0L264.5 125.2L265.0 125.3L265.5 125.5L266.0 125.6L266.5 125.7L267.0 125.8L267.5 125.9L268.0 126.0L268.5 126.0L269.0 126.1L269.5 126.1L270.0 126.2L270.5 126.2L271.0 126.2L271.5 126.3L272.0 126.3L272.5 126.4L273.0 126.4L273.5 126.4L274.0 126.4L274.5 126.5L275.0 126.5L275.5 126.5L276.0 126.5L276.5 126.6L277.0 126.6L277.5 126.6L278.0 126.6L278.5 126.6L279.0 126.6L279.5 126.7" fill="none" stroke="#2424ff" stroke-width="1.35" stroke-linejoin="round"/>
<path d="M173.5 115.1L174.0 115.1L174.5 115.1L175.0 115.1L175.5 115.1L176.0 115.1L176.5 115.1L177.0 115.1L177.5 115.1L178.0 115.1L178.5 115.1L179.0 115.1L179.5 115.1L180.0 115.1L180.5 115.1L181.0 115.1L181.5 115.1L182.0 115.1L182.5 115.2L183.0 115.2L183.5 115.2L184.0 115.2L184.5 115.2L185.0 115.2L185.5 115.2L186.0 115.2L186.5 115.2L187.0 115.2L187.5 115.2L188.0 115.2L188.5 115.2L189.0 115.2L189.5 115.2L190.0 115.2L190.5 115.2L191.0 115.1L191.5 115.0L192.0 114.9L192.5 114.7L193.0 114.4L193.5 114.1L194.0 113.6L194.5 112.9L195.0 112.0L195.5 111.0L196.0 109.6L196.5 107.9L197.0 105.9L197.5 103.4L198.0 100.5L198.5 97.2L199.0 93.4L199.5 89.1L200.0 84.5L200.5 79.6L201.0 74.4L201.5 69.2L202.0 64.0L202.5 59.0L203.0 54.4L203.5 50.4L204.0 47.1L204.5 44.6L205.0 43.0L205.5 42.5L206.0 43.1L206.5 44.6L207.0 47.1L207.5 50.5L208.0 54.7L208.5 59.4L209.0 64.5L209.5 69.9L210.0 75.4L210.5 80.8L211.0 86.0L211.5 91.0L212.0 95.5L212.5 99.6L213.0 103.3L213.5 106.5L214.0 109.2L214.5 111.5L215.0 113.4L215.5 114.9L216.0 116.1L216.5 117.1L217.0 117.8L217.5 118.3L218.0 118.7L218.5 119.0L219.0 119.3L219.5 119.4L220.0 119.5L220.5 119.5L221.0 119.6L221.5 119.6L222.0 119.6L222.5 119.5L223.0 119.5L223.5 119.4L224.0 119.4L224.5 119.3L225.0 119.3L225.5 119.2L226.0 119.1L226.5 119.0L227.0 118.9L227.5 118.8L228.0 118.6L228.5 118.5L229.0 118.2L229.5 118.0L230.0 117.6L230.5 117.2L231.0 116.7L231.5 115.9L232.0 115.0L232.5 113.8L233.0 112.2L233.5 110.2L234.0 107.7L234.5 104.6L235.0 100.9L235.5 96.4L236.0 91.2L236.5 85.2L237.0 78.6L237.5 71.5L238.0 63.9L238.5 56.1L239.0 48.4L239.5 41.1L240.0 34.6L240.5 29.2L241.0 25.5L241.5 23.6L242.0 23.7L242.5 25.9L243.0 29.9L243.5 35.4L244.0 42.2L244.5 49.6L245.0 57.5L245.5 65.5L246.0 73.2L246.5 80.6L247.0 87.3L247.5 93.4L248.0 98.7L248.5 103.3L249.0 107.2L249.5 110.4L250.0 113.1L250.5 115.2L251.0 116.9L251.5 118.3L252.0 119.4L252.5 120.2L253.0 120.9L253.5 121.5L254.0 121.9L254.5 122.3L255.0 122.7L255.5 122.9L256.0 123.2L256.5 123.4L257.0 123.6L257.5 123.8L258.0 124.0L258.5 124.1L259.0 124.3L259.5 124.4L260.0 124.5L260.5 124.6L261.0 124.7L261.5 124.8L262.0 124.9L262.5 125.0L263.0 125.1L263.5 125.2L264.0 125.3L264.5 125.4L265.0 125.4L265.5 125.5L266.0 125.6L266.5 125.6L267.0 125.7L267.5 125.7L268.0 125.8L268.5 125.8L269.0 125.9L269.5 125.9L270.0 126.0L270.5 126.0L271.0 126.0L271.5 126.1L272.0 126.1L272.5 126.2L273.0 126.2L273.5 126.2L274.0 126.3L274.5 126.3L275.0 126.3L275.5 126.3L276.0 126.4L276.5 126.4L277.0 126.4L277.5 126.4L278.0 126.5L278.5 126.5L279.0 126.5L279.5 126.5" fill="none" stroke="#ff1f1f" stroke-width="1.35" stroke-linejoin="round"/>
<path d="M173.5 115.1L174.0 115.0L174.5 115.0L175.0 115.0L175.5 115.0L176.0 115.0L176.5 115.0L177.0 115.0L177.5 115.0L178.0 115.0L178.5 115.0L179.0 115.0L179.5 115.1L180.0 115.1L180.5 115.1L181.0 115.1L181.5 115.1L182.0 115.1L182.5 115.1L183.0 115.1L183.5 115.1L184.0 115.1L184.5 115.1L185.0 115.1L185.5 115.1L186.0 115.1L186.5 115.1L187.0 115.1L187.5 115.1L188.0 115.1L188.5 115.1L189.0 115.1L189.5 115.1L190.0 115.1L190.5 115.0L191.0 115.0L191.5 114.9L192.0 114.7L192.5 114.5L193.0 114.3L193.5 113.9L194.0 113.4L194.5 112.7L195.0 111.8L195.5 110.7L196.0 109.4L196.5 107.7L197.0 105.6L197.5 103.1L198.0 100.2L198.5 96.9L199.0 93.1L199.5 88.8L200.0 84.2L200.5 79.2L201.0 74.0L201.5 68.7L202.0 63.5L202.5 58.5L203.0 53.8L203.5 49.7L204.0 46.3L204.5 43.7L205.0 42.0L205.5 41.3L206.0 41.6L206.5 43.0L207.0 45.2L207.5 48.3L208.0 52.1L208.5 56.4L209.0 61.1L209.5 66.1L210.0 71.1L210.5 76.0L211.0 80.7L211.5 85.1L212.0 89.2L212.5 92.8L213.0 96.0L213.5 98.7L214.0 101.1L214.5 103.1L215.0 104.8L215.5 106.3L216.0 107.6L216.5 108.7L217.0 109.7L217.5 110.6L218.0 111.4L218.5 112.2L219.0 112.9L219.5 113.5L220.0 114.1L220.5 114.7L221.0 115.2L221.5 115.7L222.0 116.1L222.5 116.5L223.0 116.9L223.5 117.2L224.0 117.4L224.5 117.6L225.0 117.8L225.5 117.9L226.0 118.0L226.5 118.0L227.0 118.0L227.5 118.0L228.0 117.9L228.5 117.8L229.0 117.6L229.5 117.4L230.0 117.1L230.5 116.7L231.0 116.2L231.5 115.5L232.0 114.5L232.5 113.3L233.0 111.8L233.5 109.8L234.0 107.3L234.5 104.2L235.0 100.4L235.5 95.9L236.0 90.7L236.5 84.8L237.0 78.1L237.5 70.9L238.0 63.3L238.5 55.5L239.0 47.7L239.5 40.4L240.0 33.8L240.5 28.4L241.0 24.5L241.5 22.5L242.0 22.5L242.5 24.5L243.0 28.3L243.5 33.6L244.0 40.1L244.5 47.2L245.0 54.8L245.5 62.3L246.0 69.6L246.5 76.5L247.0 82.8L247.5 88.3L248.0 93.1L248.5 97.2L249.0 100.5L249.5 103.2L250.0 105.3L250.5 107.0L251.0 108.3L251.5 109.3L252.0 110.1L252.5 110.8L253.0 111.5L253.5 112.1L254.0 112.7L254.5 113.4L255.0 114.0L255.5 114.8L256.0 115.5L256.5 116.2L257.0 117.0L257.5 117.7L258.0 118.4L258.5 119.1L259.0 119.8L259.5 120.4L260.0 121.0L260.5 121.5L261.0 122.0L261.5 122.5L262.0 122.9L262.5 123.2L263.0 123.6L263.5 123.9L264.0 124.1L264.5 124.3L265.0 124.5L265.5 124.7L266.0 124.9L266.5 125.0L267.0 125.1L267.5 125.2L268.0 125.3L268.5 125.4L269.0 125.5L269.5 125.6L270.0 125.6L270.5 125.7L271.0 125.8L271.5 125.8L272.0 125.9L272.5 125.9L273.0 126.0L273.5 126.0L274.0 126.0L274.5 126.1L275.0 126.1L275.5 126.1L276.0 126.2L276.5 126.2L277.0 126.2L277.5 126.3L278.0 126.3L278.5 126.3L279.0 126.3L279.5 126.4" fill="none" stroke="#111" stroke-width="1.35" stroke-linejoin="round"/>
<path d="M173.5 260.9L174.0 260.9L174.5 260.9L175.0 260.9L175.5 260.9L176.0 260.9L176.5 260.9L177.0 260.9L177.5 260.9L178.0 260.9L178.5 260.9L179.0 260.9L179.5 260.9L180.0 260.9L180.5 260.9L181.0 260.9L181.5 260.9L182.0 260.9L182.5 260.9L183.0 260.9L183.5 260.9L184.0 260.9L184.5 261.0L185.0 261.0L185.5 261.0L186.0 261.0L186.5 261.0L187.0 261.0L187.5 261.0L188.0 261.0L188.5 261.0L189.0 261.0L189.5 261.0L190.0 261.0L190.5 261.0L191.0 261.0L191.5 261.0L192.0 261.0L192.5 261.1L193.0 261.1L193.5 261.1L194.0 261.1L194.5 261.1L195.0 261.1L195.5 261.1L196.0 261.1L196.5 261.1L197.0 261.1L197.5 261.1L198.0 261.2L198.5 261.2L199.0 261.2L199.5 261.2L200.0 261.2L200.5 261.2L201.0 261.3L201.5 261.3L202.0 261.4L202.5 261.5L203.0 261.6L203.5 261.7L204.0 261.9L204.5 262.0L205.0 262.2L205.5 262.3L206.0 262.5L206.5 262.7L207.0 262.8L207.5 263.0L208.0 263.2L208.5 263.3L209.0 263.5L209.5 263.6L210.0 263.8L210.5 263.9L211.0 264.0L211.5 264.1L212.0 264.2L212.5 264.3L213.0 264.4L213.5 264.4L214.0 264.5L214.5 264.6L215.0 264.7L215.5 264.8L216.0 264.8L216.5 264.9L217.0 265.0L217.5 265.1L218.0 265.1L218.5 265.2L219.0 265.3L219.5 265.3L220.0 265.4L220.5 265.5L221.0 265.5L221.5 265.6L222.0 265.6L222.5 265.7L223.0 265.7L223.5 265.8L224.0 265.8L224.5 265.9L225.0 265.9L225.5 265.9L226.0 266.0L226.5 266.0L227.0 266.0L227.5 266.0L228.0 266.0L228.5 266.0L229.0 266.1L229.5 266.1L230.0 266.1L230.5 266.1L231.0 266.1L231.5 266.1L232.0 266.1L232.5 266.1L233.0 266.1L233.5 266.1L234.0 266.1L234.5 266.1L235.0 266.1L235.5 266.2L236.0 266.2L236.5 266.2L237.0 266.2L237.5 266.2L238.0 266.3L238.5 266.3L239.0 266.4L239.5 266.5L240.0 266.6L240.5 266.7L241.0 266.8L241.5 266.9L242.0 267.1L242.5 267.2L243.0 267.3L243.5 267.5L244.0 267.6L244.5 267.7L245.0 267.9L245.5 268.0L246.0 268.1L246.5 268.2L247.0 268.3L247.5 268.4L248.0 268.5L248.5 268.6L249.0 268.7L249.5 268.8L250.0 268.8L250.5 268.9L251.0 269.0L251.5 269.1L252.0 269.2L252.5 269.3L253.0 269.4L253.5 269.4L254.0 269.5L254.5 269.6L255.0 269.6L255.5 269.7L256.0 269.7L256.5 269.8L257.0 269.8L257.5 269.8L258.0 269.9L258.5 269.9L259.0 269.9L259.5 269.9L260.0 270.0L260.5 270.0L261.0 270.0L261.5 270.1L262.0 270.1L262.5 270.1L263.0 270.1L263.5 270.2L264.0 270.2L264.5 270.2L265.0 270.2L265.5 270.3L266.0 270.3L266.5 270.3L267.0 270.3L267.5 270.3L268.0 270.4L268.5 270.4L269.0 270.4L269.5 270.4L270.0 270.4L270.5 270.4L271.0 270.5L271.5 270.5L272.0 270.5L272.5 270.5L273.0 270.5L273.5 270.5L274.0 270.5L274.5 270.5L275.0 270.6L275.5 270.6L276.0 270.6L276.5 270.6L277.0 270.6L277.5 270.6L278.0 270.6L278.5 270.6L279.0 270.6L279.5 270.6" fill="none" stroke="#8a8a8a" stroke-width="0.8" stroke-dasharray="2,2.2"/>
<path d="M173.5 260.9L174.0 260.9L174.5 260.9L175.0 260.9L175.5 260.9L176.0 260.9L176.5 260.9L177.0 260.9L177.5 260.9L178.0 260.9L178.5 260.9L179.0 260.9L179.5 260.9L180.0 260.9L180.5 260.9L181.0 260.9L181.5 260.9L182.0 260.9L182.5 260.9L183.0 260.9L183.5 260.9L184.0 260.9L184.5 260.9L185.0 261.0L185.5 261.0L186.0 261.0L186.5 261.0L187.0 261.0L187.5 261.0L188.0 261.0L188.5 261.0L189.0 261.0L189.5 261.0L190.0 261.0L190.5 261.0L191.0 261.0L191.5 261.0L192.0 261.0L192.5 261.0L193.0 261.1L193.5 261.1L194.0 261.1L194.5 261.1L195.0 261.1L195.5 261.1L196.0 261.1L196.5 261.1L197.0 261.1L197.5 261.1L198.0 261.1L198.5 261.2L199.0 261.2L199.5 261.2L200.0 261.2L200.5 261.2L201.0 261.3L201.5 261.3L202.0 261.4L202.5 261.5L203.0 261.6L203.5 261.7L204.0 261.8L204.5 262.0L205.0 262.1L205.5 262.3L206.0 262.4L206.5 262.6L207.0 262.8L207.5 262.9L208.0 263.0L208.5 263.1L209.0 263.2L209.5 263.2L210.0 263.2L210.5 263.1L211.0 263.0L211.5 262.9L212.0 262.7L212.5 262.6L213.0 262.6L213.5 262.7L214.0 262.8L214.5 263.1L215.0 263.4L215.5 263.7L216.0 264.0L216.5 264.3L217.0 264.6L217.5 264.8L218.0 264.9L218.5 265.1L219.0 265.2L219.5 265.3L220.0 265.4L220.5 265.4L221.0 265.5L221.5 265.6L222.0 265.6L222.5 265.7L223.0 265.7L223.5 265.8L224.0 265.8L224.5 265.8L225.0 265.9L225.5 265.9L226.0 265.9L226.5 266.0L227.0 266.0L227.5 266.0L228.0 266.0L228.5 266.0L229.0 266.0L229.5 266.0L230.0 266.1L230.5 266.1L231.0 266.1L231.5 266.1L232.0 266.1L232.5 266.1L233.0 266.1L233.5 266.1L234.0 266.1L234.5 266.1L235.0 266.1L235.5 266.1L236.0 266.1L236.5 266.2L237.0 266.2L237.5 266.2L238.0 266.2L238.5 266.3L239.0 266.4L239.5 266.5L240.0 266.6L240.5 266.7L241.0 266.8L241.5 266.9L242.0 267.0L242.5 267.1L243.0 267.1L243.5 267.2L244.0 267.2L244.5 267.1L245.0 267.0L245.5 266.9L246.0 266.8L246.5 266.6L247.0 266.6L247.5 266.6L248.0 266.7L248.5 266.9L249.0 267.2L249.5 267.6L250.0 267.9L250.5 268.2L251.0 268.5L251.5 268.7L252.0 268.9L252.5 269.1L253.0 269.2L253.5 269.3L254.0 269.4L254.5 269.5L255.0 269.6L255.5 269.6L256.0 269.7L256.5 269.7L257.0 269.8L257.5 269.8L258.0 269.8L258.5 269.9L259.0 269.9L259.5 269.9L260.0 270.0L260.5 270.0L261.0 270.0L261.5 270.0L262.0 270.1L262.5 270.1L263.0 270.1L263.5 270.2L264.0 270.2L264.5 270.2L265.0 270.2L265.5 270.2L266.0 270.3L266.5 270.3L267.0 270.3L267.5 270.3L268.0 270.4L268.5 270.4L269.0 270.4L269.5 270.4L270.0 270.4L270.5 270.4L271.0 270.5L271.5 270.5L272.0 270.5L272.5 270.5L273.0 270.5L273.5 270.5L274.0 270.5L274.5 270.5L275.0 270.6L275.5 270.6L276.0 270.6L276.5 270.6L277.0 270.6L277.5 270.6L278.0 270.6L278.5 270.6L279.0 270.6L279.5 270.6" fill="none" stroke="#2424ff" stroke-width="1.35" stroke-linejoin="round"/>
<path d="M173.5 260.6L174.0 260.6L174.5 260.6L175.0 260.6L175.5 260.6L176.0 260.6L176.5 260.6L177.0 260.6L177.5 260.6L178.0 260.6L178.5 260.6L179.0 260.6L179.5 260.6L180.0 260.6L180.5 260.6L181.0 260.5L181.5 260.5L182.0 260.5L182.5 260.5L183.0 260.5L183.5 260.5L184.0 260.5L184.5 260.5L185.0 260.5L185.5 260.5L186.0 260.4L186.5 260.4L187.0 260.4L187.5 260.4L188.0 260.4L188.5 260.4L189.0 260.3L189.5 260.3L190.0 260.3L190.5 260.3L191.0 260.2L191.5 260.2L192.0 260.2L192.5 260.1L193.0 260.1L193.5 260.0L194.0 259.9L194.5 259.8L195.0 259.6L195.5 259.3L196.0 259.0L196.5 258.5L197.0 257.7L197.5 256.7L198.0 255.2L198.5 253.2L199.0 250.6L199.5 247.2L200.0 243.0L200.5 237.9L201.0 231.9L201.5 225.1L202.0 217.5L202.5 209.6L203.0 201.5L203.5 193.7L204.0 186.7L204.5 181.0L205.0 176.9L205.5 174.9L206.0 175.2L206.5 178.4L207.0 184.4L207.5 192.3L208.0 201.6L208.5 211.3L209.0 220.9L209.5 229.7L210.0 237.5L210.5 244.1L211.0 249.3L211.5 253.4L212.0 256.4L212.5 258.6L213.0 260.1L213.5 261.1L214.0 261.8L214.5 262.3L215.0 262.6L215.5 262.9L216.0 263.0L216.5 263.2L217.0 263.3L217.5 263.4L218.0 263.4L218.5 263.5L219.0 263.5L219.5 263.6L220.0 263.6L220.5 263.6L221.0 263.7L221.5 263.7L222.0 263.7L222.5 263.6L223.0 263.6L223.5 263.6L224.0 263.5L224.5 263.5L225.0 263.4L225.5 263.3L226.0 263.2L226.5 263.0L227.0 262.9L227.5 262.7L228.0 262.5L228.5 262.3L229.0 262.0L229.5 261.8L230.0 261.4L230.5 261.1L231.0 260.6L231.5 260.1L232.0 259.6L232.5 258.8L233.0 258.0L233.5 256.9L234.0 255.5L234.5 253.7L235.0 251.4L235.5 248.4L236.0 244.6L236.5 239.7L237.0 233.8L237.5 226.6L238.0 218.1L238.5 208.5L239.0 197.9L239.5 186.7L240.0 175.5L240.5 165.3L241.0 157.2L241.5 152.5L242.0 152.1L242.5 157.3L243.0 167.2L243.5 179.9L244.0 193.4L244.5 206.5L245.0 218.3L245.5 228.5L246.0 237.0L246.5 243.7L247.0 249.0L247.5 252.9L248.0 255.9L248.5 258.1L249.0 259.8L249.5 261.1L250.0 262.1L250.5 263.0L251.0 263.7L251.5 264.3L252.0 264.8L252.5 265.2L253.0 265.6L253.5 266.0L254.0 266.3L254.5 266.6L255.0 266.9L255.5 267.1L256.0 267.4L256.5 267.5L257.0 267.7L257.5 267.9L258.0 268.0L258.5 268.2L259.0 268.3L259.5 268.4L260.0 268.5L260.5 268.6L261.0 268.7L261.5 268.8L262.0 268.9L262.5 269.0L263.0 269.0L263.5 269.1L264.0 269.2L264.5 269.2L265.0 269.3L265.5 269.4L266.0 269.4L266.5 269.5L267.0 269.5L267.5 269.6L268.0 269.6L268.5 269.7L269.0 269.7L269.5 269.8L270.0 269.8L270.5 269.8L271.0 269.9L271.5 269.9L272.0 269.9L272.5 270.0L273.0 270.0L273.5 270.0L274.0 270.0L274.5 270.1L275.0 270.1L275.5 270.1L276.0 270.1L276.5 270.2L277.0 270.2L277.5 270.2L278.0 270.2L278.5 270.2L279.0 270.2L279.5 270.2" fill="none" stroke="#ff1f1f" stroke-width="1.35" stroke-linejoin="round"/>
<path d="M173.5 260.6L174.0 260.6L174.5 260.6L175.0 260.6L175.5 260.6L176.0 260.6L176.5 260.6L177.0 260.6L177.5 260.6L178.0 260.6L178.5 260.6L179.0 260.6L179.5 260.6L180.0 260.6L180.5 260.6L181.0 260.5L181.5 260.5L182.0 260.5L182.5 260.5L183.0 260.5L183.5 260.5L184.0 260.5L184.5 260.5L185.0 260.5L185.5 260.5L186.0 260.4L186.5 260.4L187.0 260.4L187.5 260.4L188.0 260.4L188.5 260.4L189.0 260.3L189.5 260.3L190.0 260.3L190.5 260.3L191.0 260.2L191.5 260.2L192.0 260.2L192.5 260.1L193.0 260.1L193.5 260.0L194.0 259.9L194.5 259.8L195.0 259.6L195.5 259.3L196.0 259.0L196.5 258.4L197.0 257.7L197.5 256.6L198.0 255.2L198.5 253.2L199.0 250.6L199.5 247.2L200.0 243.0L200.5 237.9L201.0 231.9L201.5 225.0L202.0 217.5L202.5 209.5L203.0 201.5L203.5 193.7L204.0 186.7L204.5 180.9L205.0 176.9L205.5 174.8L206.0 175.0L206.5 177.4L207.0 181.8L207.5 187.9L208.0 195.2L208.5 203.2L209.0 211.4L209.5 219.4L210.0 227.0L210.5 233.7L211.0 239.6L211.5 244.5L212.0 248.5L212.5 251.7L213.0 254.3L213.5 256.3L214.0 257.9L214.5 259.1L215.0 260.2L215.5 261.0L216.0 261.6L216.5 262.1L217.0 262.5L217.5 262.8L218.0 263.0L218.5 263.1L219.0 263.3L219.5 263.3L220.0 263.4L220.5 263.5L221.0 263.5L221.5 263.5L222.0 263.5L222.5 263.5L223.0 263.5L223.5 263.4L224.0 263.4L224.5 263.3L225.0 263.3L225.5 263.2L226.0 263.1L226.5 262.9L227.0 262.8L227.5 262.6L228.0 262.4L228.5 262.2L229.0 262.0L229.5 261.7L230.0 261.4L230.5 261.0L231.0 260.6L231.5 260.1L232.0 259.5L232.5 258.8L233.0 257.9L233.5 256.8L234.0 255.4L234.5 253.6L235.0 251.3L235.5 248.3L236.0 244.5L236.5 239.7L237.0 233.7L237.5 226.5L238.0 218.1L238.5 208.4L239.0 197.8L239.5 186.6L240.0 175.4L240.5 165.2L241.0 157.1L241.5 152.4L242.0 151.9L242.5 155.7L243.0 163.1L243.5 173.0L244.0 184.1L244.5 195.4L245.0 206.3L245.5 216.2L246.0 224.9L246.5 232.3L247.0 238.6L247.5 243.8L248.0 248.0L248.5 251.4L249.0 254.2L249.5 256.5L250.0 258.4L250.5 259.9L251.0 261.1L251.5 262.1L252.0 262.9L252.5 263.6L253.0 264.2L253.5 264.7L254.0 265.1L254.5 265.5L255.0 265.9L255.5 266.2L256.0 266.5L256.5 266.7L257.0 266.9L257.5 267.1L258.0 267.3L258.5 267.5L259.0 267.7L259.5 267.8L260.0 267.9L260.5 268.1L261.0 268.2L261.5 268.3L262.0 268.4L262.5 268.5L263.0 268.6L263.5 268.7L264.0 268.8L264.5 268.9L265.0 269.0L265.5 269.0L266.0 269.1L266.5 269.2L267.0 269.2L267.5 269.3L268.0 269.4L268.5 269.4L269.0 269.5L269.5 269.5L270.0 269.6L270.5 269.6L271.0 269.6L271.5 269.7L272.0 269.7L272.5 269.8L273.0 269.8L273.5 269.8L274.0 269.9L274.5 269.9L275.0 269.9L275.5 269.9L276.0 270.0L276.5 270.0L277.0 270.0L277.5 270.0L278.0 270.1L278.5 270.1L279.0 270.1L279.5 270.1" fill="none" stroke="#111" stroke-width="1.35" stroke-linejoin="round"/>
<path d="M173.5 379.6L174.0 379.6L174.5 379.6L175.0 379.6L175.5 379.6L176.0 379.6L176.5 379.6L177.0 379.6L177.5 379.6L178.0 379.6L178.5 379.6L179.0 379.6L179.5 379.6L180.0 379.6L180.5 379.6L181.0 379.6L181.5 379.6L182.0 379.6L182.5 379.6L183.0 379.6L183.5 379.6L184.0 379.6L184.5 379.6L185.0 379.6L185.5 379.6L186.0 379.6L186.5 379.6L187.0 379.6L187.5 379.6L188.0 379.6L188.5 379.6L189.0 379.6L189.5 379.6L190.0 379.6L190.5 379.6L191.0 379.7L191.5 379.8L192.0 379.8L192.5 380.0L193.0 380.1L193.5 380.2L194.0 380.4L194.5 380.5L195.0 380.7L195.5 380.9L196.0 381.1L196.5 381.2L197.0 381.4L197.5 381.6L198.0 381.8L198.5 382.0L199.0 382.2L199.5 382.3L200.0 382.5L200.5 382.7L201.0 382.8L201.5 383.0L202.0 383.3L202.5 383.5L203.0 383.7L203.5 383.9L204.0 384.2L204.5 384.4L205.0 384.6L205.5 384.8L206.0 385.0L206.5 385.2L207.0 385.4L207.5 385.6L208.0 385.7L208.5 385.8L209.0 385.9L209.5 385.9L210.0 385.9L210.5 385.9L211.0 385.9L211.5 385.9L212.0 385.9L212.5 385.9L213.0 385.9L213.5 385.9L214.0 385.8L214.5 385.8L215.0 385.8L215.5 385.8L216.0 385.8L216.5 385.8L217.0 385.8L217.5 385.8L218.0 385.8L218.5 385.7L219.0 385.7L219.5 385.7L220.0 385.7L220.5 385.7L221.0 385.7L221.5 385.7L222.0 385.7L222.5 385.7L223.0 385.7L223.5 385.8L224.0 385.9L224.5 385.9L225.0 386.0L225.5 386.1L226.0 386.3L226.5 386.4L227.0 386.5L227.5 386.7L228.0 386.8L228.5 387.0L229.0 387.2L229.5 387.3L230.0 387.5L230.5 387.7L231.0 387.8L231.5 388.0L232.0 388.1L232.5 388.3L233.0 388.4L233.5 388.5L234.0 388.7L234.5 388.8L235.0 389.0L235.5 389.1L236.0 389.3L236.5 389.4L237.0 389.6L237.5 389.7L238.0 389.9L238.5 390.1L239.0 390.2L239.5 390.3L240.0 390.5L240.5 390.6L241.0 390.8L241.5 390.9L242.0 391.0L242.5 391.1L243.0 391.2L243.5 391.3L244.0 391.4L244.5 391.5L245.0 391.5L245.5 391.6L246.0 391.7L246.5 391.8L247.0 391.9L247.5 392.0L248.0 392.1L248.5 392.1L249.0 392.2L249.5 392.3L250.0 392.4L250.5 392.4L251.0 392.5L251.5 392.5L252.0 392.6L252.5 392.6L253.0 392.7L253.5 392.7L254.0 392.8L254.5 392.8L255.0 392.8L255.5 392.8L256.0 392.8L256.5 392.8L257.0 392.9L257.5 392.9L258.0 392.9L258.5 392.9L259.0 392.9L259.5 392.9L260.0 392.9L260.5 393.0L261.0 393.0L261.5 393.0L262.0 393.0L262.5 393.0L263.0 393.0L263.5 393.0L264.0 393.0L264.5 393.0L265.0 393.1L265.5 393.1L266.0 393.1L266.5 393.1L267.0 393.1L267.5 393.1L268.0 393.1L268.5 393.1L269.0 393.1L269.5 393.1L270.0 393.1L270.5 393.1L271.0 393.1L271.5 393.2L272.0 393.2L272.5 393.2L273.0 393.2L273.5 393.2L274.0 393.2L274.5 393.2L275.0 393.2L275.5 393.2L276.0 393.2L276.5 393.2L277.0 393.2L277.5 393.2L278.0 393.2L278.5 393.2L279.0 393.2L279.5 393.2" fill="none" stroke="#8a8a8a" stroke-width="0.8" stroke-dasharray="2,2.2"/>
<path d="M173.5 379.3L174.0 379.2L174.5 379.2L175.0 379.2L175.5 379.2L176.0 379.2L176.5 379.2L177.0 379.2L177.5 379.1L178.0 379.1L178.5 379.1L179.0 379.1L179.5 379.0L180.0 379.0L180.5 379.0L181.0 379.0L181.5 378.9L182.0 378.9L182.5 378.9L183.0 378.8L183.5 378.8L184.0 378.7L184.5 378.7L185.0 378.6L185.5 378.5L186.0 378.5L186.5 378.4L187.0 378.3L187.5 378.2L188.0 378.1L188.5 377.9L189.0 377.7L189.5 377.5L190.0 377.2L190.5 376.8L191.0 376.2L191.5 375.4L192.0 374.2L192.5 372.6L193.0 370.3L193.5 367.3L194.0 363.3L194.5 358.4L195.0 352.7L195.5 346.3L196.0 339.4L196.5 332.7L197.0 326.8L197.5 322.3L198.0 320.1L198.5 320.4L199.0 323.3L199.5 328.3L200.0 334.7L200.5 341.8L201.0 349.0L201.5 355.7L202.0 361.7L202.5 366.8L203.0 371.0L203.5 374.3L204.0 376.9L204.5 378.8L205.0 380.2L205.5 381.2L206.0 382.0L206.5 382.6L207.0 383.0L207.5 383.4L208.0 383.7L208.5 383.9L209.0 384.1L209.5 384.2L210.0 384.2L210.5 384.3L211.0 384.3L211.5 384.4L212.0 384.4L212.5 384.4L213.0 384.4L213.5 384.4L214.0 384.4L214.5 384.4L215.0 384.3L215.5 384.3L216.0 384.3L216.5 384.2L217.0 384.2L217.5 384.1L218.0 384.0L218.5 384.0L219.0 383.9L219.5 383.8L220.0 383.7L220.5 383.6L221.0 383.4L221.5 383.3L222.0 383.1L222.5 382.9L223.0 382.7L223.5 382.5L224.0 382.2L224.5 381.7L225.0 381.2L225.5 380.4L226.0 379.4L226.5 378.1L227.0 376.3L227.5 374.0L228.0 371.1L228.5 367.6L229.0 363.3L229.5 358.3L230.0 352.6L230.5 346.2L231.0 339.4L231.5 332.4L232.0 325.5L232.5 319.0L233.0 313.5L233.5 309.4L234.0 307.1L234.5 307.0L235.0 309.0L235.5 312.9L236.0 318.4L236.5 324.9L237.0 332.1L237.5 339.4L238.0 346.6L238.5 353.4L239.0 359.7L239.5 365.2L240.0 370.0L240.5 374.0L241.0 377.4L241.5 380.1L242.0 382.3L242.5 384.0L243.0 385.3L243.5 386.3L244.0 387.1L244.5 387.8L245.0 388.3L245.5 388.7L246.0 389.1L246.5 389.4L247.0 389.7L247.5 389.9L248.0 390.1L248.5 390.3L249.0 390.5L249.5 390.7L250.0 390.9L250.5 391.0L251.0 391.2L251.5 391.3L252.0 391.4L252.5 391.5L253.0 391.6L253.5 391.7L254.0 391.8L254.5 391.8L255.0 391.9L255.5 392.0L256.0 392.0L256.5 392.1L257.0 392.1L257.5 392.2L258.0 392.2L258.5 392.2L259.0 392.3L259.5 392.3L260.0 392.3L260.5 392.4L261.0 392.4L261.5 392.4L262.0 392.5L262.5 392.5L263.0 392.5L263.5 392.6L264.0 392.6L264.5 392.6L265.0 392.6L265.5 392.6L266.0 392.7L266.5 392.7L267.0 392.7L267.5 392.7L268.0 392.7L268.5 392.8L269.0 392.8L269.5 392.8L270.0 392.8L270.5 392.8L271.0 392.8L271.5 392.9L272.0 392.9L272.5 392.9L273.0 392.9L273.5 392.9L274.0 392.9L274.5 392.9L275.0 392.9L275.5 392.9L276.0 392.9L276.5 393.0L277.0 393.0L277.5 393.0L278.0 393.0L278.5 393.0L279.0 393.0L279.5 393.0" fill="none" stroke="#229922" stroke-width="1.35" stroke-linejoin="round"/>
<path d="M173.5 378.9L174.0 378.9L174.5 378.9L175.0 378.8L175.5 378.8L176.0 378.8L176.5 378.8L177.0 378.8L177.5 378.7L178.0 378.7L178.5 378.7L179.0 378.6L179.5 378.6L180.0 378.6L180.5 378.5L181.0 378.5L181.5 378.5L182.0 378.4L182.5 378.4L183.0 378.3L183.5 378.3L184.0 378.2L184.5 378.2L185.0 378.1L185.5 378.0L186.0 378.0L186.5 377.9L187.0 377.8L187.5 377.7L188.0 377.6L188.5 377.5L189.0 377.4L189.5 377.3L190.0 377.1L190.5 377.0L191.0 376.9L191.5 376.7L192.0 376.6L192.5 376.4L193.0 376.2L193.5 376.0L194.0 375.7L194.5 375.3L195.0 374.9L195.5 374.4L196.0 373.8L196.5 373.1L197.0 372.3L197.5 371.3L198.0 370.3L198.5 369.0L199.0 367.7L199.5 366.2L200.0 364.6L200.5 362.8L201.0 361.1L201.5 359.3L202.0 357.6L202.5 355.9L203.0 354.5L203.5 353.2L204.0 352.4L204.5 351.9L205.0 351.8L205.5 352.3L206.0 353.1L206.5 354.4L207.0 356.0L207.5 357.8L208.0 359.7L208.5 361.8L209.0 363.8L209.5 365.7L210.0 367.6L210.5 369.3L211.0 370.9L211.5 372.4L212.0 373.8L212.5 375.0L213.0 376.1L213.5 377.1L214.0 378.0L214.5 378.7L215.0 379.3L215.5 379.9L216.0 380.3L216.5 380.7L217.0 381.0L217.5 381.2L218.0 381.5L218.5 381.6L219.0 381.8L219.5 381.9L220.0 381.9L220.5 382.0L221.0 382.0L221.5 382.0L222.0 382.0L222.5 382.0L223.0 381.9L223.5 381.9L224.0 381.8L224.5 381.8L225.0 381.7L225.5 381.5L226.0 381.4L226.5 381.2L227.0 380.9L227.5 380.6L228.0 380.2L228.5 379.8L229.0 379.3L229.5 378.7L230.0 378.0L230.5 377.2L231.0 376.2L231.5 375.2L232.0 374.1L232.5 372.9L233.0 371.5L233.5 370.1L234.0 368.5L234.5 367.0L235.0 365.3L235.5 363.6L236.0 361.9L236.5 360.2L237.0 358.5L237.5 356.9L238.0 355.4L238.5 354.0L239.0 352.8L239.5 351.8L240.0 351.1L240.5 350.6L241.0 350.5L241.5 350.6L242.0 351.1L242.5 351.9L243.0 353.0L243.5 354.3L244.0 355.8L244.5 357.5L245.0 359.3L245.5 361.2L246.0 363.1L246.5 365.1L247.0 367.1L247.5 369.0L248.0 370.9L248.5 372.8L249.0 374.5L249.5 376.2L250.0 377.7L250.5 379.2L251.0 380.5L251.5 381.8L252.0 382.9L252.5 383.9L253.0 384.9L253.5 385.7L254.0 386.4L254.5 387.1L255.0 387.6L255.5 388.1L256.0 388.6L256.5 389.0L257.0 389.3L257.5 389.6L258.0 389.9L258.5 390.1L259.0 390.3L259.5 390.5L260.0 390.7L260.5 390.8L261.0 390.9L261.5 391.1L262.0 391.2L262.5 391.3L263.0 391.3L263.5 391.4L264.0 391.5L264.5 391.6L265.0 391.6L265.5 391.7L266.0 391.8L266.5 391.8L267.0 391.9L267.5 391.9L268.0 392.0L268.5 392.0L269.0 392.0L269.5 392.1L270.0 392.1L270.5 392.2L271.0 392.2L271.5 392.2L272.0 392.3L272.5 392.3L273.0 392.3L273.5 392.3L274.0 392.4L274.5 392.4L275.0 392.4L275.5 392.4L276.0 392.5L276.5 392.5L277.0 392.5L277.5 392.5L278.0 392.5L278.5 392.6L279.0 392.6L279.5 392.6" fill="none" stroke="#ff1f1f" stroke-width="1.35" stroke-linejoin="round"/>
<path d="M173.5 379.4L174.0 379.4L174.5 379.4L175.0 379.4L175.5 379.4L176.0 379.4L176.5 379.4L177.0 379.4L177.5 379.4L178.0 379.4L178.5 379.4L179.0 379.4L179.5 379.4L180.0 379.4L180.5 379.4L181.0 379.4L181.5 379.4L182.0 379.3L182.5 379.3L183.0 379.3L183.5 379.3L184.0 379.3L184.5 379.2L185.0 379.2L185.5 379.1L186.0 379.0L186.5 378.9L187.0 378.7L187.5 378.6L188.0 378.3L188.5 378.0L189.0 377.7L189.5 377.2L190.0 376.6L190.5 375.8L191.0 374.8L191.5 373.6L192.0 371.9L192.5 369.7L193.0 367.0L193.5 363.5L194.0 359.3L194.5 354.2L195.0 348.5L195.5 342.1L196.0 335.4L196.5 328.5L197.0 322.0L197.5 316.1L198.0 311.3L198.5 307.8L199.0 305.8L199.5 305.4L200.0 306.4L200.5 308.7L201.0 311.9L201.5 315.8L202.0 320.0L202.5 324.2L203.0 328.3L203.5 332.1L204.0 335.6L204.5 338.7L205.0 341.6L205.5 344.3L206.0 346.8L206.5 349.2L207.0 351.6L207.5 353.9L208.0 356.2L208.5 358.6L209.0 360.8L209.5 363.1L210.0 365.2L210.5 367.2L211.0 369.2L211.5 371.0L212.0 372.7L212.5 374.2L213.0 375.6L213.5 376.9L214.0 378.0L214.5 378.9L215.0 379.7L215.5 380.4L216.0 381.0L216.5 381.4L217.0 381.8L217.5 382.0L218.0 382.2L218.5 382.2L219.0 382.3L219.5 382.2L220.0 382.1L220.5 381.9L221.0 381.6L221.5 381.2L222.0 380.8L222.5 380.3L223.0 379.7L223.5 379.1L224.0 378.3L224.5 377.4L225.0 376.3L225.5 375.1L226.0 373.6L226.5 371.8L227.0 369.7L227.5 367.2L228.0 364.3L228.5 360.9L229.0 356.8L229.5 352.1L230.0 346.8L230.5 340.7L231.0 334.0L231.5 326.6L232.0 318.8L232.5 310.9L233.0 303.2L233.5 296.3L234.0 291.0L234.5 287.8L235.0 287.0L235.5 288.6L236.0 292.1L236.5 297.0L237.0 302.6L237.5 308.5L238.0 314.4L238.5 320.1L239.0 325.4L239.5 330.3L240.0 334.9L240.5 339.1L241.0 342.9L241.5 346.5L242.0 349.8L242.5 352.9L243.0 355.9L243.5 358.7L244.0 361.4L244.5 364.0L245.0 366.4L245.5 368.8L246.0 371.0L246.5 373.1L247.0 375.1L247.5 377.0L248.0 378.7L248.5 380.2L249.0 381.7L249.5 383.0L250.0 384.2L250.5 385.3L251.0 386.2L251.5 387.0L252.0 387.8L252.5 388.4L253.0 389.0L253.5 389.4L254.0 389.9L254.5 390.2L255.0 390.5L255.5 390.8L256.0 391.0L256.5 391.2L257.0 391.3L257.5 391.5L258.0 391.6L258.5 391.7L259.0 391.8L259.5 391.9L260.0 391.9L260.5 392.0L261.0 392.0L261.5 392.1L262.0 392.1L262.5 392.2L263.0 392.2L263.5 392.3L264.0 392.3L264.5 392.3L265.0 392.4L265.5 392.4L266.0 392.4L266.5 392.5L267.0 392.5L267.5 392.5L268.0 392.5L268.5 392.6L269.0 392.6L269.5 392.6L270.0 392.6L270.5 392.7L271.0 392.7L271.5 392.7L272.0 392.7L272.5 392.7L273.0 392.7L273.5 392.8L274.0 392.8L274.5 392.8L275.0 392.8L275.5 392.8L276.0 392.8L276.5 392.8L277.0 392.8L277.5 392.9L278.0 392.9L278.5 392.9L279.0 392.9L279.5 392.9" fill="none" stroke="#111" stroke-width="1.35" stroke-linejoin="round"/>
<path d="M301.5 122.0L302.0 122.0L302.5 122.0L303.0 122.0L303.5 122.1L304.0 122.1L304.5 122.1L305.0 122.1L305.5 122.1L306.0 122.1L306.5 122.1L307.0 122.1L307.5 122.1L308.0 122.1L308.5 122.1L309.0 122.1L309.5 122.2L310.0 122.2L310.5 122.2L311.0 122.2L311.5 122.2L312.0 122.2L312.5 122.2L313.0 122.2L313.5 122.2L314.0 122.2L314.5 122.3L315.0 122.3L315.5 122.3L316.0 122.3L316.5 122.3L317.0 122.3L317.5 122.3L318.0 122.3L318.5 122.3L319.0 122.3L319.5 122.4L320.0 122.4L320.5 122.4L321.0 122.4L321.5 122.4L322.0 122.4L322.5 122.4L323.0 122.4L323.5 122.4L324.0 122.5L324.5 122.5L325.0 122.5L325.5 122.5L326.0 122.5L326.5 122.5L327.0 122.5L327.5 122.5L328.0 122.6L328.5 122.6L329.0 122.6L329.5 122.6L330.0 122.6L330.5 122.6L331.0 122.6L331.5 122.6L332.0 122.6L332.5 122.7L333.0 122.7L333.5 122.7L334.0 122.7L334.5 122.7L335.0 122.7L335.5 122.7L336.0 122.8L336.5 122.8L337.0 122.8L337.5 122.8L338.0 122.8L338.5 122.8L339.0 122.8L339.5 122.9L340.0 122.9L340.5 122.9L341.0 122.9L341.5 122.9L342.0 122.9L342.5 123.0L343.0 123.0L343.5 123.0L344.0 123.0L344.5 123.0L345.0 123.0L345.5 123.1L346.0 123.1L346.5 123.1L347.0 123.1L347.5 123.1L348.0 123.1L348.5 123.1L349.0 123.2L349.5 123.2L350.0 123.2L350.5 123.2L351.0 123.2L351.5 123.2L352.0 123.3L352.5 123.3L353.0 123.3L353.5 123.3L354.0 123.3L354.5 123.3L355.0 123.3L355.5 123.4L356.0 123.4L356.5 123.4L357.0 123.4L357.5 123.4L358.0 123.4L358.5 123.4L359.0 123.5L359.5 123.5L360.0 123.5L360.5 123.5L361.0 123.5L361.5 123.5L362.0 123.5L362.5 123.6L363.0 123.6L363.5 123.6L364.0 123.6L364.5 123.6L365.0 123.6L365.5 123.6L366.0 123.6L366.5 123.7L367.0 123.7L367.5 123.7L368.0 123.7L368.5 123.7L369.0 123.7L369.5 123.7L370.0 123.8L370.5 123.8L371.0 123.8L371.5 123.8L372.0 123.8L372.5 123.8L373.0 123.8L373.5 123.8L374.0 123.9L374.5 123.9L375.0 123.9L375.5 123.9L376.0 123.9L376.5 123.9L377.0 123.9L377.5 123.9L378.0 124.0L378.5 124.0L379.0 124.0L379.5 124.0L380.0 124.0L380.5 124.0L381.0 124.0L381.5 124.0L382.0 124.0L382.5 124.1L383.0 124.1L383.5 124.1L384.0 124.1L384.5 124.1L385.0 124.1L385.5 124.1L386.0 124.1L386.5 124.1L387.0 124.2L387.5 124.2L388.0 124.2L388.5 124.2L389.0 124.2L389.5 124.2L390.0 124.2L390.5 124.2L391.0 124.2L391.5 124.3L392.0 124.3L392.5 124.3L393.0 124.3L393.5 124.3L394.0 124.3L394.5 124.3L395.0 124.3L395.5 124.3L396.0 124.3L396.5 124.4L397.0 124.4L397.5 124.4L398.0 124.4L398.5 124.4L399.0 124.4L399.5 124.4L400.0 124.4L400.5 124.4L401.0 124.4L401.5 124.5L402.0 124.5L402.5 124.5L403.0 124.5L403.5 124.5L404.0 124.5L404.5 124.5L405.0 124.5L405.5 124.5L406.0 124.5L406.5 124.5L407.0 124.6L407.5 124.6L408.0 124.6L408.5 124.6" fill="none" stroke="#8a8a8a" stroke-width="0.8" stroke-dasharray="2,2.2"/>
<path d="M301.5 121.9L302.0 121.9L302.5 121.9L303.0 121.9L303.5 121.9L304.0 121.9L304.5 121.9L305.0 121.9L305.5 121.9L306.0 121.8L306.5 121.8L307.0 121.8L307.5 121.8L308.0 121.8L308.5 121.8L309.0 121.8L309.5 121.8L310.0 121.7L310.5 121.7L311.0 121.7L311.5 121.7L312.0 121.6L312.5 121.6L313.0 121.5L313.5 121.5L314.0 121.4L314.5 121.3L315.0 121.2L315.5 121.1L316.0 121.0L316.5 120.9L317.0 120.8L317.5 120.7L318.0 120.5L318.5 120.3L319.0 120.1L319.5 119.9L320.0 119.7L320.5 119.4L321.0 119.2L321.5 118.9L322.0 118.5L322.5 118.2L323.0 117.8L323.5 117.4L324.0 116.9L324.5 116.5L325.0 115.9L325.5 115.4L326.0 114.8L326.5 114.2L327.0 113.5L327.5 112.8L328.0 112.0L328.5 111.2L329.0 110.4L329.5 109.5L330.0 108.6L330.5 107.6L331.0 106.5L331.5 105.5L332.0 104.3L332.5 103.1L333.0 101.9L333.5 100.6L334.0 99.3L334.5 97.9L335.0 96.5L335.5 95.0L336.0 93.4L336.5 91.8L337.0 90.2L337.5 88.5L338.0 86.8L338.5 85.0L339.0 83.2L339.5 81.3L340.0 79.4L340.5 77.5L341.0 75.5L341.5 73.5L342.0 71.4L342.5 69.4L343.0 67.3L343.5 65.1L344.0 63.0L344.5 60.9L345.0 58.7L345.5 56.6L346.0 54.4L346.5 52.3L347.0 50.1L347.5 48.1L348.0 46.0L348.5 44.0L349.0 42.0L349.5 40.1L350.0 38.3L350.5 36.5L351.0 34.8L351.5 33.2L352.0 31.8L352.5 30.4L353.0 29.2L353.5 28.1L354.0 27.1L354.5 26.3L355.0 25.6L355.5 25.2L356.0 24.8L356.5 24.7L357.0 24.8L357.5 25.0L358.0 25.4L358.5 26.0L359.0 26.8L359.5 27.8L360.0 28.9L360.5 30.3L361.0 31.8L361.5 33.5L362.0 35.3L362.5 37.3L363.0 39.4L363.5 41.7L364.0 44.1L364.5 46.6L365.0 49.1L365.5 51.8L366.0 54.5L366.5 57.3L367.0 60.1L367.5 63.0L368.0 65.9L368.5 68.7L369.0 71.6L369.5 74.4L370.0 77.2L370.5 79.9L371.0 82.6L371.5 85.2L372.0 87.7L372.5 90.2L373.0 92.5L373.5 94.8L374.0 97.0L374.5 99.1L375.0 101.0L375.5 102.9L376.0 104.7L376.5 106.3L377.0 107.9L377.5 109.4L378.0 110.7L378.5 112.0L379.0 113.1L379.5 114.2L380.0 115.2L380.5 116.1L381.0 117.0L381.5 117.7L382.0 118.4L382.5 119.1L383.0 119.6L383.5 120.1L384.0 120.6L384.5 121.0L385.0 121.4L385.5 121.7L386.0 122.0L386.5 122.3L387.0 122.5L387.5 122.7L388.0 122.9L388.5 123.1L389.0 123.2L389.5 123.4L390.0 123.5L390.5 123.6L391.0 123.7L391.5 123.7L392.0 123.8L392.5 123.9L393.0 123.9L393.5 124.0L394.0 124.0L394.5 124.0L395.0 124.1L395.5 124.1L396.0 124.1L396.5 124.2L397.0 124.2L397.5 124.2L398.0 124.2L398.5 124.2L399.0 124.2L399.5 124.3L400.0 124.3L400.5 124.3L401.0 124.3L401.5 124.3L402.0 124.3L402.5 124.3L403.0 124.4L403.5 124.4L404.0 124.4L404.5 124.4L405.0 124.4L405.5 124.4L406.0 124.4L406.5 124.4L407.0 124.5L407.5 124.5L408.0 124.5L408.5 124.5" fill="none" stroke="#111" stroke-width="1.35" stroke-linejoin="round"/>
<path d="M301.5 266.2L302.0 266.2L302.5 266.2L303.0 266.2L303.5 266.2L304.0 266.2L304.5 266.2L305.0 266.2L305.5 266.2L306.0 266.2L306.5 266.2L307.0 266.2L307.5 266.2L308.0 266.2L308.5 266.2L309.0 266.2L309.5 266.2L310.0 266.2L310.5 266.2L311.0 266.2L311.5 266.2L312.0 266.2L312.5 266.2L313.0 266.2L313.5 266.2L314.0 266.2L314.5 266.2L315.0 266.2L315.5 266.2L316.0 266.2L316.5 266.2L317.0 266.2L317.5 266.2L318.0 266.2L318.5 266.2L319.0 266.2L319.5 266.2L320.0 266.2L320.5 266.2L321.0 266.2L321.5 266.2L322.0 266.2L322.5 266.3L323.0 266.3L323.5 266.3L324.0 266.3L324.5 266.3L325.0 266.3L325.5 266.4L326.0 266.4L326.5 266.4L327.0 266.4L327.5 266.4L328.0 266.5L328.5 266.5L329.0 266.5L329.5 266.5L330.0 266.6L330.5 266.6L331.0 266.6L331.5 266.6L332.0 266.7L332.5 266.7L333.0 266.7L333.5 266.8L334.0 266.8L334.5 266.8L335.0 266.9L335.5 266.9L336.0 266.9L336.5 267.0L337.0 267.0L337.5 267.0L338.0 267.1L338.5 267.1L339.0 267.1L339.5 267.2L340.0 267.2L340.5 267.2L341.0 267.3L341.5 267.3L342.0 267.3L342.5 267.4L343.0 267.4L343.5 267.4L344.0 267.5L344.5 267.5L345.0 267.5L345.5 267.5L346.0 267.6L346.5 267.6L347.0 267.6L347.5 267.7L348.0 267.7L348.5 267.7L349.0 267.8L349.5 267.8L350.0 267.8L350.5 267.8L351.0 267.9L351.5 267.9L352.0 267.9L352.5 268.0L353.0 268.0L353.5 268.0L354.0 268.0L354.5 268.0L355.0 268.1L355.5 268.1L356.0 268.1L356.5 268.1L357.0 268.2L357.5 268.2L358.0 268.2L358.5 268.2L359.0 268.3L359.5 268.3L360.0 268.3L360.5 268.3L361.0 268.4L361.5 268.4L362.0 268.4L362.5 268.5L363.0 268.5L363.5 268.5L364.0 268.5L364.5 268.6L365.0 268.6L365.5 268.6L366.0 268.6L366.5 268.7L367.0 268.7L367.5 268.7L368.0 268.7L368.5 268.8L369.0 268.8L369.5 268.8L370.0 268.8L370.5 268.8L371.0 268.9L371.5 268.9L372.0 268.9L372.5 268.9L373.0 268.9L373.5 269.0L374.0 269.0L374.5 269.0L375.0 269.0L375.5 269.0L376.0 269.0L376.5 269.0L377.0 269.1L377.5 269.1L378.0 269.1L378.5 269.1L379.0 269.1L379.5 269.1L380.0 269.1L380.5 269.1L381.0 269.1L381.5 269.1L382.0 269.1L382.5 269.1L383.0 269.1L383.5 269.1L384.0 269.1L384.5 269.2L385.0 269.2L385.5 269.2L386.0 269.2L386.5 269.2L387.0 269.2L387.5 269.2L388.0 269.2L388.5 269.2L389.0 269.2L389.5 269.2L390.0 269.2L390.5 269.2L391.0 269.2L391.5 269.2L392.0 269.2L392.5 269.2L393.0 269.2L393.5 269.2L394.0 269.2L394.5 269.2L395.0 269.2L395.5 269.3L396.0 269.3L396.5 269.3L397.0 269.3L397.5 269.3L398.0 269.3L398.5 269.3L399.0 269.3L399.5 269.3L400.0 269.3L400.5 269.3L401.0 269.3L401.5 269.3L402.0 269.3L402.5 269.3L403.0 269.3L403.5 269.3L404.0 269.3L404.5 269.3L405.0 269.3L405.5 269.3L406.0 269.3L406.5 269.3L407.0 269.3L407.5 269.3L408.0 269.3L408.5 269.3" fill="none" stroke="#8a8a8a" stroke-width="0.8" stroke-dasharray="2,2.2"/>
<path d="M301.5 265.5L302.0 265.5L302.5 265.5L303.0 265.5L303.5 265.4L304.0 265.4L304.5 265.4L305.0 265.4L305.5 265.4L306.0 265.4L306.5 265.4L307.0 265.3L307.5 265.3L308.0 265.3L308.5 265.3L309.0 265.3L309.5 265.2L310.0 265.2L310.5 265.2L311.0 265.2L311.5 265.2L312.0 265.1L312.5 265.1L313.0 265.1L313.5 265.1L314.0 265.1L314.5 265.0L315.0 265.0L315.5 265.0L316.0 264.9L316.5 264.9L317.0 264.9L317.5 264.9L318.0 264.8L318.5 264.8L319.0 264.7L319.5 264.7L320.0 264.7L320.5 264.6L321.0 264.6L321.5 264.5L322.0 264.5L322.5 264.4L323.0 264.3L323.5 264.2L324.0 264.1L324.5 264.0L325.0 263.8L325.5 263.6L326.0 263.3L326.5 263.0L327.0 262.6L327.5 262.2L328.0 261.6L328.5 260.9L329.0 260.1L329.5 259.2L330.0 258.1L330.5 256.8L331.0 255.3L331.5 253.6L332.0 251.7L332.5 249.6L333.0 247.2L333.5 244.6L334.0 241.8L334.5 238.8L335.0 235.6L335.5 232.2L336.0 228.7L336.5 225.2L337.0 221.6L337.5 217.9L338.0 214.4L338.5 210.9L339.0 207.7L339.5 204.6L340.0 201.7L340.5 199.2L341.0 197.0L341.5 195.1L342.0 193.5L342.5 192.2L343.0 191.3L343.5 190.7L344.0 190.3L344.5 190.1L345.0 190.0L345.5 190.1L346.0 190.2L346.5 190.3L347.0 190.2L347.5 190.1L348.0 189.7L348.5 189.2L349.0 188.4L349.5 187.3L350.0 186.0L350.5 184.3L351.0 182.5L351.5 180.3L352.0 178.0L352.5 175.6L353.0 173.0L353.5 170.4L354.0 167.8L354.5 165.3L355.0 163.0L355.5 161.0L356.0 159.2L356.5 157.8L357.0 156.9L357.5 156.4L358.0 156.5L358.5 157.0L359.0 158.1L359.5 159.7L360.0 161.8L360.5 164.4L361.0 167.3L361.5 170.7L362.0 174.3L362.5 178.2L363.0 182.3L363.5 186.5L364.0 190.9L364.5 195.2L365.0 199.6L365.5 204.0L366.0 208.3L366.5 212.5L367.0 216.6L367.5 220.6L368.0 224.4L368.5 228.0L369.0 231.4L369.5 234.6L370.0 237.6L370.5 240.5L371.0 243.1L371.5 245.5L372.0 247.7L372.5 249.7L373.0 251.6L373.5 253.3L374.0 254.8L374.5 256.1L375.0 257.4L375.5 258.5L376.0 259.4L376.5 260.3L377.0 261.1L377.5 261.7L378.0 262.3L378.5 262.9L379.0 263.3L379.5 263.8L380.0 264.1L380.5 264.5L381.0 264.7L381.5 265.0L382.0 265.2L382.5 265.4L383.0 265.6L383.5 265.8L384.0 265.9L384.5 266.1L385.0 266.2L385.5 266.3L386.0 266.4L386.5 266.5L387.0 266.6L387.5 266.7L388.0 266.8L388.5 266.9L389.0 267.0L389.5 267.0L390.0 267.1L390.5 267.2L391.0 267.2L391.5 267.3L392.0 267.4L392.5 267.4L393.0 267.5L393.5 267.5L394.0 267.6L394.5 267.6L395.0 267.7L395.5 267.7L396.0 267.7L396.5 267.8L397.0 267.8L397.5 267.9L398.0 267.9L398.5 267.9L399.0 268.0L399.5 268.0L400.0 268.0L400.5 268.1L401.0 268.1L401.5 268.1L402.0 268.1L402.5 268.2L403.0 268.2L403.5 268.2L404.0 268.2L404.5 268.3L405.0 268.3L405.5 268.3L406.0 268.3L406.5 268.3L407.0 268.4L407.5 268.4L408.0 268.4L408.5 268.4" fill="none" stroke="#111" stroke-width="1.35" stroke-linejoin="round"/>
<path d="M301.5 393.7L302.0 393.7L302.5 393.7L303.0 393.7L303.5 393.7L304.0 393.7L304.5 393.7L305.0 393.7L305.5 393.7L306.0 393.7L306.5 393.8L307.0 393.8L307.5 393.8L308.0 393.8L308.5 393.8L309.0 393.8L309.5 393.8L310.0 393.8L310.5 393.8L311.0 393.8L311.5 393.8L312.0 393.9L312.5 393.9L313.0 393.9L313.5 393.9L314.0 393.9L314.5 393.9L315.0 393.9L315.5 393.9L316.0 393.9L316.5 394.0L317.0 394.0L317.5 394.0L318.0 394.0L318.5 394.0L319.0 394.1L319.5 394.1L320.0 394.1L320.5 394.1L321.0 394.2L321.5 394.2L322.0 394.2L322.5 394.3L323.0 394.3L323.5 394.3L324.0 394.3L324.5 394.4L325.0 394.4L325.5 394.4L326.0 394.5L326.5 394.5L327.0 394.6L327.5 394.6L328.0 394.6L328.5 394.7L329.0 394.7L329.5 394.7L330.0 394.8L330.5 394.8L331.0 394.9L331.5 394.9L332.0 394.9L332.5 395.0L333.0 395.0L333.5 395.0L334.0 395.1L334.5 395.1L335.0 395.2L335.5 395.2L336.0 395.2L336.5 395.3L337.0 395.3L337.5 395.3L338.0 395.4L338.5 395.4L339.0 395.5L339.5 395.5L340.0 395.5L340.5 395.6L341.0 395.6L341.5 395.6L342.0 395.6L342.5 395.7L343.0 395.7L343.5 395.7L344.0 395.8L344.5 395.8L345.0 395.8L345.5 395.9L346.0 395.9L346.5 395.9L347.0 395.9L347.5 396.0L348.0 396.0L348.5 396.0L349.0 396.1L349.5 396.1L350.0 396.1L350.5 396.2L351.0 396.2L351.5 396.2L352.0 396.2L352.5 396.3L353.0 396.3L353.5 396.3L354.0 396.4L354.5 396.4L355.0 396.4L355.5 396.4L356.0 396.5L356.5 396.5L357.0 396.5L357.5 396.5L358.0 396.5L358.5 396.6L359.0 396.6L359.5 396.6L360.0 396.6L360.5 396.6L361.0 396.6L361.5 396.6L362.0 396.7L362.5 396.7L363.0 396.7L363.5 396.7L364.0 396.7L364.5 396.7L365.0 396.7L365.5 396.7L366.0 396.7L366.5 396.8L367.0 396.8L367.5 396.8L368.0 396.8L368.5 396.8L369.0 396.8L369.5 396.8L370.0 396.8L370.5 396.8L371.0 396.8L371.5 396.9L372.0 396.9L372.5 396.9L373.0 396.9L373.5 396.9L374.0 396.9L374.5 396.9L375.0 396.9L375.5 396.9L376.0 396.9L376.5 396.9L377.0 396.9L377.5 396.9L378.0 396.9L378.5 397.0L379.0 397.0L379.5 397.0L380.0 397.0L380.5 397.0L381.0 397.0L381.5 397.0L382.0 397.0L382.5 397.0L383.0 397.0L383.5 397.0L384.0 397.0L384.5 397.0L385.0 397.0L385.5 397.0L386.0 397.0L386.5 397.0L387.0 397.0L387.5 397.0L388.0 397.0L388.5 397.0L389.0 397.0L389.5 397.0L390.0 397.0L390.5 397.0L391.0 397.0L391.5 397.0L392.0 397.0L392.5 397.1L393.0 397.1L393.5 397.1L394.0 397.1L394.5 397.1L395.0 397.1L395.5 397.1L396.0 397.1L396.5 397.1L397.0 397.1L397.5 397.1L398.0 397.1L398.5 397.1L399.0 397.1L399.5 397.1L400.0 397.1L400.5 397.1L401.0 397.1L401.5 397.1L402.0 397.1L402.5 397.1L403.0 397.1L403.5 397.1L404.0 397.1L404.5 397.1L405.0 397.1L405.5 397.1L406.0 397.1L406.5 397.1L407.0 397.1L407.5 397.1L408.0 397.1L408.5 397.1" fill="none" stroke="#8a8a8a" stroke-width="0.8" stroke-dasharray="2,2.2"/>
<path d="M301.5 393.1L302.0 393.0L302.5 393.0L303.0 393.0L303.5 393.0L304.0 393.0L304.5 393.0L305.0 393.0L305.5 393.0L306.0 393.0L306.5 393.0L307.0 393.0L307.5 392.9L308.0 392.9L308.5 392.9L309.0 392.9L309.5 392.9L310.0 392.9L310.5 392.9L311.0 392.9L311.5 392.8L312.0 392.8L312.5 392.8L313.0 392.8L313.5 392.8L314.0 392.7L314.5 392.7L315.0 392.7L315.5 392.6L316.0 392.6L316.5 392.6L317.0 392.5L317.5 392.5L318.0 392.4L318.5 392.4L319.0 392.3L319.5 392.2L320.0 392.2L320.5 392.1L321.0 392.0L321.5 391.9L322.0 391.7L322.5 391.6L323.0 391.4L323.5 391.3L324.0 391.1L324.5 390.9L325.0 390.7L325.5 390.4L326.0 390.2L326.5 389.9L327.0 389.6L327.5 389.2L328.0 388.9L328.5 388.5L329.0 388.1L329.5 387.6L330.0 387.2L330.5 386.7L331.0 386.2L331.5 385.7L332.0 385.1L332.5 384.6L333.0 384.0L333.5 383.4L334.0 382.8L334.5 382.1L335.0 381.5L335.5 380.9L336.0 380.2L336.5 379.6L337.0 379.0L337.5 378.4L338.0 377.8L338.5 377.2L339.0 376.6L339.5 376.1L340.0 375.5L340.5 375.0L341.0 374.6L341.5 374.2L342.0 373.8L342.5 373.4L343.0 373.1L343.5 372.9L344.0 372.6L344.5 372.4L345.0 372.2L345.5 372.1L346.0 372.0L346.5 371.8L347.0 371.7L347.5 371.6L348.0 371.5L348.5 371.4L349.0 371.2L349.5 371.1L350.0 370.9L350.5 370.6L351.0 370.4L351.5 370.1L352.0 369.7L352.5 369.4L353.0 369.0L353.5 368.6L354.0 368.2L354.5 367.8L355.0 367.4L355.5 367.1L356.0 367.0L356.5 366.9L357.0 366.9L357.5 367.1L358.0 367.5L358.5 368.0L359.0 368.7L359.5 369.5L360.0 370.4L360.5 371.4L361.0 372.5L361.5 373.7L362.0 374.9L362.5 376.1L363.0 377.2L363.5 378.4L364.0 379.5L364.5 380.5L365.0 381.6L365.5 382.5L366.0 383.4L366.5 384.2L367.0 385.0L367.5 385.7L368.0 386.4L368.5 387.0L369.0 387.6L369.5 388.2L370.0 388.7L370.5 389.1L371.0 389.5L371.5 389.9L372.0 390.3L372.5 390.7L373.0 391.0L373.5 391.3L374.0 391.6L374.5 391.8L375.0 392.1L375.5 392.3L376.0 392.5L376.5 392.7L377.0 392.9L377.5 393.1L378.0 393.3L378.5 393.4L379.0 393.6L379.5 393.7L380.0 393.8L380.5 394.0L381.0 394.1L381.5 394.2L382.0 394.3L382.5 394.4L383.0 394.5L383.5 394.6L384.0 394.7L384.5 394.7L385.0 394.8L385.5 394.9L386.0 395.0L386.5 395.0L387.0 395.1L387.5 395.2L388.0 395.2L388.5 395.3L389.0 395.3L389.5 395.4L390.0 395.4L390.5 395.5L391.0 395.5L391.5 395.6L392.0 395.6L392.5 395.6L393.0 395.7L393.5 395.7L394.0 395.8L394.5 395.8L395.0 395.8L395.5 395.9L396.0 395.9L396.5 395.9L397.0 396.0L397.5 396.0L398.0 396.0L398.5 396.0L399.0 396.1L399.5 396.1L400.0 396.1L400.5 396.1L401.0 396.2L401.5 396.2L402.0 396.2L402.5 396.2L403.0 396.2L403.5 396.3L404.0 396.3L404.5 396.3L405.0 396.3L405.5 396.3L406.0 396.3L406.5 396.4L407.0 396.4L407.5 396.4L408.0 396.4L408.5 396.4" fill="none" stroke="#2424ff" stroke-width="1.35" stroke-linejoin="round"/>
<path d="M301.5 390.1L302.0 389.9L302.5 389.7L303.0 389.6L303.5 389.4L304.0 389.2L304.5 389.0L305.0 388.8L305.5 388.5L306.0 388.3L306.5 388.0L307.0 387.7L307.5 387.4L308.0 387.1L308.5 386.8L309.0 386.5L309.5 386.1L310.0 385.7L310.5 385.3L311.0 384.9L311.5 384.5L312.0 384.0L312.5 383.5L313.0 383.0L313.5 382.5L314.0 382.0L314.5 381.4L315.0 380.8L315.5 380.2L316.0 379.6L316.5 379.0L317.0 378.3L317.5 377.6L318.0 376.9L318.5 376.2L319.0 375.4L319.5 374.7L320.0 373.9L320.5 373.1L321.0 372.2L321.5 371.4L322.0 370.5L322.5 369.7L323.0 368.8L323.5 367.9L324.0 367.0L324.5 366.1L325.0 365.1L325.5 364.1L326.0 363.1L326.5 362.1L327.0 360.9L327.5 359.7L328.0 358.4L328.5 357.0L329.0 355.4L329.5 353.5L330.0 351.5L330.5 349.3L331.0 346.9L331.5 344.4L332.0 341.8L332.5 339.4L333.0 337.0L333.5 335.0L334.0 333.4L334.5 332.2L335.0 331.6L335.5 331.5L336.0 331.8L336.5 332.4L337.0 333.1L337.5 333.8L338.0 334.4L338.5 334.7L339.0 334.7L339.5 334.4L340.0 333.8L340.5 332.7L341.0 331.4L341.5 329.7L342.0 327.9L342.5 325.9L343.0 323.8L343.5 321.7L344.0 319.7L344.5 317.9L345.0 316.4L345.5 315.2L346.0 314.4L346.5 314.2L347.0 314.4L347.5 315.2L348.0 316.5L348.5 318.4L349.0 320.7L349.5 323.4L350.0 326.5L350.5 329.9L351.0 333.4L351.5 337.0L352.0 340.7L352.5 344.3L353.0 347.8L353.5 351.2L354.0 354.4L354.5 357.3L355.0 360.1L355.5 362.6L356.0 365.0L356.5 367.1L357.0 369.0L357.5 370.7L358.0 372.3L358.5 373.7L359.0 375.0L359.5 376.1L360.0 377.2L360.5 378.2L361.0 379.1L361.5 380.0L362.0 380.8L362.5 381.5L363.0 382.2L363.5 382.9L364.0 383.6L364.5 384.2L365.0 384.8L365.5 385.4L366.0 385.9L366.5 386.5L367.0 387.0L367.5 387.4L368.0 387.9L368.5 388.3L369.0 388.7L369.5 389.1L370.0 389.5L370.5 389.9L371.0 390.2L371.5 390.5L372.0 390.8L372.5 391.1L373.0 391.4L373.5 391.7L374.0 391.9L374.5 392.2L375.0 392.4L375.5 392.6L376.0 392.8L376.5 393.0L377.0 393.1L377.5 393.3L378.0 393.5L378.5 393.6L379.0 393.8L379.5 393.9L380.0 394.0L380.5 394.1L381.0 394.2L381.5 394.3L382.0 394.4L382.5 394.5L383.0 394.6L383.5 394.7L384.0 394.8L384.5 394.8L385.0 394.9L385.5 395.0L386.0 395.0L386.5 395.1L387.0 395.1L387.5 395.2L388.0 395.2L388.5 395.3L389.0 395.3L389.5 395.4L390.0 395.4L390.5 395.5L391.0 395.5L391.5 395.5L392.0 395.6L392.5 395.6L393.0 395.6L393.5 395.7L394.0 395.7L394.5 395.7L395.0 395.7L395.5 395.8L396.0 395.8L396.5 395.8L397.0 395.8L397.5 395.9L398.0 395.9L398.5 395.9L399.0 395.9L399.5 396.0L400.0 396.0L400.5 396.0L401.0 396.0L401.5 396.0L402.0 396.0L402.5 396.1L403.0 396.1L403.5 396.1L404.0 396.1L404.5 396.1L405.0 396.1L405.5 396.2L406.0 396.2L406.5 396.2L407.0 396.2L407.5 396.2L408.0 396.2L408.5 396.2" fill="none" stroke="#ff1f1f" stroke-width="1.35" stroke-linejoin="round"/>
<path d="M301.5 389.4L302.0 389.2L302.5 389.1L303.0 388.9L303.5 388.7L304.0 388.5L304.5 388.2L305.0 388.0L305.5 387.8L306.0 387.5L306.5 387.2L307.0 386.9L307.5 386.6L308.0 386.3L308.5 385.9L309.0 385.6L309.5 385.2L310.0 384.8L310.5 384.4L311.0 383.9L311.5 383.5L312.0 383.0L312.5 382.5L313.0 381.9L313.5 381.4L314.0 380.8L314.5 380.2L315.0 379.6L315.5 378.9L316.0 378.3L316.5 377.6L317.0 376.8L317.5 376.1L318.0 375.3L318.5 374.5L319.0 373.6L319.5 372.8L320.0 371.9L320.5 371.0L321.0 370.0L321.5 369.0L322.0 368.0L322.5 367.0L323.0 365.9L323.5 364.8L324.0 363.7L324.5 362.5L325.0 361.3L325.5 360.1L326.0 358.8L326.5 357.4L327.0 355.9L327.5 354.3L328.0 352.6L328.5 350.7L329.0 348.7L329.5 346.4L330.0 343.8L330.5 341.1L331.0 338.1L331.5 334.9L332.0 331.7L332.5 328.5L333.0 325.4L333.5 322.5L334.0 320.0L334.5 317.9L335.0 316.3L335.5 315.2L336.0 314.4L336.5 313.9L337.0 313.5L337.5 313.2L338.0 312.9L338.5 312.5L339.0 311.9L339.5 311.0L340.0 310.0L340.5 308.7L341.0 307.2L341.5 305.4L342.0 303.6L342.5 301.6L343.0 299.5L343.5 297.5L344.0 295.5L344.5 293.7L345.0 292.2L345.5 291.0L346.0 290.1L346.5 289.8L347.0 289.9L347.5 290.6L348.0 291.8L348.5 293.5L349.0 295.7L349.5 298.2L350.0 301.1L350.5 304.2L351.0 307.4L351.5 310.6L352.0 313.9L352.5 317.1L353.0 320.1L353.5 322.9L354.0 325.6L354.5 328.1L355.0 330.3L355.5 332.4L356.0 334.4L356.5 336.2L357.0 337.9L357.5 339.5L358.0 341.2L358.5 342.8L359.0 344.5L359.5 346.2L360.0 348.0L360.5 349.8L361.0 351.6L361.5 353.5L362.0 355.5L362.5 357.5L363.0 359.4L363.5 361.4L364.0 363.4L364.5 365.3L365.0 367.1L365.5 368.9L366.0 370.6L366.5 372.2L367.0 373.7L367.5 375.1L368.0 376.4L368.5 377.6L369.0 378.8L369.5 379.8L370.0 380.8L370.5 381.7L371.0 382.6L371.5 383.3L372.0 384.0L372.5 384.7L373.0 385.3L373.5 385.9L374.0 386.5L374.5 387.0L375.0 387.4L375.5 387.9L376.0 388.3L376.5 388.7L377.0 389.0L377.5 389.4L378.0 389.7L378.5 390.0L379.0 390.3L379.5 390.5L380.0 390.8L380.5 391.0L381.0 391.3L381.5 391.5L382.0 391.7L382.5 391.9L383.0 392.0L383.5 392.2L384.0 392.4L384.5 392.5L385.0 392.7L385.5 392.8L386.0 392.9L386.5 393.1L387.0 393.2L387.5 393.3L388.0 393.4L388.5 393.5L389.0 393.6L389.5 393.7L390.0 393.8L390.5 393.9L391.0 393.9L391.5 394.0L392.0 394.1L392.5 394.2L393.0 394.2L393.5 394.3L394.0 394.4L394.5 394.4L395.0 394.5L395.5 394.5L396.0 394.6L396.5 394.7L397.0 394.7L397.5 394.8L398.0 394.8L398.5 394.9L399.0 394.9L399.5 394.9L400.0 395.0L400.5 395.0L401.0 395.1L401.5 395.1L402.0 395.1L402.5 395.2L403.0 395.2L403.5 395.2L404.0 395.3L404.5 395.3L405.0 395.3L405.5 395.4L406.0 395.4L406.5 395.4L407.0 395.5L407.5 395.5L408.0 395.5L408.5 395.5" fill="none" stroke="#111" stroke-width="1.35" stroke-linejoin="round"/>
<path d="M427.0 101.7L427.5 101.7L428.0 101.7L428.5 101.7L429.0 101.7L429.5 101.7L430.0 101.7L430.5 101.7L431.0 101.7L431.5 101.7L432.0 101.7L432.5 101.7L433.0 101.7L433.5 101.7L434.0 101.7L434.5 101.7L435.0 101.7L435.5 101.7L436.0 101.7L436.5 101.7L437.0 101.7L437.5 101.7L438.0 101.7L438.5 101.7L439.0 101.7L439.5 101.7L440.0 101.7L440.5 101.7L441.0 101.7L441.5 101.7L442.0 101.7L442.5 101.7L443.0 101.7L443.5 101.7L444.0 101.7L444.5 101.7L445.0 101.7L445.5 101.7L446.0 101.7L446.5 101.7L447.0 101.7L447.5 101.7L448.0 101.7L448.5 101.7L449.0 101.7L449.5 101.7L450.0 101.7L450.5 101.7L451.0 101.7L451.5 101.7L452.0 101.7L452.5 101.7L453.0 101.7L453.5 101.7L454.0 101.7L454.5 101.7L455.0 101.7L455.5 101.7L456.0 101.7L456.5 101.7L457.0 101.7L457.5 101.7L458.0 101.8L458.5 101.8L459.0 101.9L459.5 102.0L460.0 102.1L460.5 102.2L461.0 102.3L461.5 102.4L462.0 102.5L462.5 102.6L463.0 102.7L463.5 102.8L464.0 103.0L464.5 103.1L465.0 103.2L465.5 103.4L466.0 103.6L466.5 103.8L467.0 104.0L467.5 104.2L468.0 104.5L468.5 104.7L469.0 105.0L469.5 105.3L470.0 105.6L470.5 105.9L471.0 106.2L471.5 106.4L472.0 106.7L472.5 107.0L473.0 107.3L473.5 107.6L474.0 107.9L474.5 108.2L475.0 108.6L475.5 108.9L476.0 109.2L476.5 109.6L477.0 109.9L477.5 110.3L478.0 110.6L478.5 111.0L479.0 111.3L479.5 111.7L480.0 112.0L480.5 112.4L481.0 112.7L481.5 113.0L482.0 113.4L482.5 113.7L483.0 114.0L483.5 114.4L484.0 114.7L484.5 115.1L485.0 115.4L485.5 115.7L486.0 116.1L486.5 116.4L487.0 116.8L487.5 117.2L488.0 117.6L488.5 118.0L489.0 118.4L489.5 118.9L490.0 119.3L490.5 119.8L491.0 120.2L491.5 120.7L492.0 121.2L492.5 121.6L493.0 122.1L493.5 122.5L494.0 122.9L494.5 123.3L495.0 123.7L495.5 124.0L496.0 124.3L496.5 124.6L497.0 124.8L497.5 125.0L498.0 125.1L498.5 125.2L499.0 125.3L499.5 125.4L500.0 125.5L500.5 125.6L501.0 125.7L501.5 125.8L502.0 125.8L502.5 125.9L503.0 126.0L503.5 126.0L504.0 126.1L504.5 126.2L505.0 126.2L505.5 126.3L506.0 126.3L506.5 126.4L507.0 126.4L507.5 126.4L508.0 126.5L508.5 126.5L509.0 126.5L509.5 126.5L510.0 126.5L510.5 126.6L511.0 126.6L511.5 126.6L512.0 126.6L512.5 126.6L513.0 126.6L513.5 126.7L514.0 126.7L514.5 126.7L515.0 126.7L515.5 126.7L516.0 126.7L516.5 126.7L517.0 126.8L517.5 126.8L518.0 126.8L518.5 126.8L519.0 126.8L519.5 126.8L520.0 126.8L520.5 126.8L521.0 126.9L521.5 126.9L522.0 126.9L522.5 126.9L523.0 126.9L523.5 126.9L524.0 126.9L524.5 126.9L525.0 126.9L525.5 126.9L526.0 126.9L526.5 126.9L527.0 127.0L527.5 127.0L528.0 127.0L528.5 127.0L529.0 127.0L529.5 127.0L530.0 127.0L530.5 127.0L531.0 127.0L531.5 127.0L532.0 127.0L532.5 127.0L533.0 127.0L533.5 127.0L534.0 127.0" fill="none" stroke="#8a8a8a" stroke-width="0.8" stroke-dasharray="2,2.2"/>
<path d="M427.0 101.7L427.5 101.7L428.0 101.7L428.5 101.7L429.0 101.7L429.5 101.7L430.0 101.7L430.5 101.7L431.0 101.7L431.5 101.7L432.0 101.7L432.5 101.7L433.0 101.7L433.5 101.7L434.0 101.7L434.5 101.7L435.0 101.7L435.5 101.7L436.0 101.7L436.5 101.7L437.0 101.7L437.5 101.7L438.0 101.7L438.5 101.7L439.0 101.7L439.5 101.7L440.0 101.7L440.5 101.7L441.0 101.7L441.5 101.7L442.0 101.7L442.5 101.7L443.0 101.7L443.5 101.7L444.0 101.7L444.5 101.7L445.0 101.7L445.5 101.7L446.0 101.7L446.5 101.6L447.0 101.6L447.5 101.6L448.0 101.6L448.5 101.6L449.0 101.5L449.5 101.5L450.0 101.5L450.5 101.4L451.0 101.3L451.5 101.3L452.0 101.2L452.5 101.0L453.0 100.9L453.5 100.8L454.0 100.6L454.5 100.4L455.0 100.2L455.5 99.9L456.0 99.6L456.5 99.2L457.0 98.9L457.5 98.4L458.0 98.0L458.5 97.5L459.0 96.9L459.5 96.3L460.0 95.7L460.5 94.9L461.0 94.1L461.5 93.3L462.0 92.3L462.5 91.2L463.0 90.0L463.5 88.7L464.0 87.3L464.5 85.6L465.0 83.8L465.5 81.8L466.0 79.6L466.5 77.2L467.0 74.6L467.5 72.0L468.0 69.2L468.5 66.6L469.0 64.0L469.5 61.7L470.0 59.7L470.5 58.0L471.0 56.8L471.5 56.1L472.0 55.8L472.5 55.8L473.0 56.1L473.5 56.5L474.0 57.0L474.5 57.5L475.0 57.9L475.5 58.0L476.0 57.9L476.5 57.4L477.0 56.7L477.5 55.6L478.0 54.2L478.5 52.5L479.0 50.5L479.5 48.3L480.0 45.9L480.5 43.3L481.0 40.7L481.5 37.9L482.0 35.2L482.5 32.7L483.0 30.3L483.5 28.1L484.0 26.4L484.5 25.1L485.0 24.2L485.5 24.0L486.0 24.4L486.5 25.4L487.0 27.0L487.5 29.4L488.0 32.3L488.5 35.9L489.0 40.0L489.5 44.6L490.0 49.5L490.5 54.7L491.0 60.2L491.5 65.7L492.0 71.2L492.5 76.7L493.0 81.9L493.5 87.0L494.0 91.8L494.5 96.2L495.0 100.4L495.5 104.1L496.0 107.5L496.5 110.4L497.0 113.0L497.5 115.3L498.0 117.2L498.5 118.8L499.0 120.2L499.5 121.3L500.0 122.3L500.5 123.1L501.0 123.7L501.5 124.3L502.0 124.7L502.5 125.0L503.0 125.3L503.5 125.6L504.0 125.8L504.5 125.9L505.0 126.0L505.5 126.1L506.0 126.2L506.5 126.3L507.0 126.3L507.5 126.4L508.0 126.4L508.5 126.5L509.0 126.5L509.5 126.5L510.0 126.5L510.5 126.6L511.0 126.6L511.5 126.6L512.0 126.6L512.5 126.6L513.0 126.6L513.5 126.7L514.0 126.7L514.5 126.7L515.0 126.7L515.5 126.7L516.0 126.7L516.5 126.7L517.0 126.8L517.5 126.8L518.0 126.8L518.5 126.8L519.0 126.8L519.5 126.8L520.0 126.8L520.5 126.8L521.0 126.9L521.5 126.9L522.0 126.9L522.5 126.9L523.0 126.9L523.5 126.9L524.0 126.9L524.5 126.9L525.0 126.9L525.5 126.9L526.0 126.9L526.5 126.9L527.0 127.0L527.5 127.0L528.0 127.0L528.5 127.0L529.0 127.0L529.5 127.0L530.0 127.0L530.5 127.0L531.0 127.0L531.5 127.0L532.0 127.0L532.5 127.0L533.0 127.0L533.5 127.0L534.0 127.0" fill="none" stroke="#111" stroke-width="1.35" stroke-linejoin="round"/>
<path d="M426.5 374.3L427.0 374.5L427.5 374.6L428.0 374.8L428.5 374.9L429.0 375.0L429.5 375.2L430.0 375.3L430.5 375.5L431.0 375.6L431.5 375.7L432.0 375.9L432.5 376.0L433.0 376.1L433.5 376.3L434.0 376.4L434.5 376.5L435.0 376.7L435.5 376.8L436.0 376.9L436.5 377.1L437.0 377.2L437.5 377.3L438.0 377.5L438.5 377.6L439.0 377.7L439.5 377.8L440.0 378.0L440.5 378.1L441.0 378.2L441.5 378.4L442.0 378.5L442.5 378.6L443.0 378.7L443.5 378.9L444.0 379.0L444.5 379.1L445.0 379.2L445.5 379.4L446.0 379.5L446.5 379.6L447.0 379.7L447.5 379.9L448.0 380.0L448.5 380.1L449.0 380.2L449.5 380.3L450.0 380.5L450.5 380.6L451.0 380.7L451.5 380.8L452.0 380.9L452.5 381.1L453.0 381.2L453.5 381.3L454.0 381.4L454.5 381.5L455.0 381.6L455.5 381.8L456.0 381.9L456.5 382.0L457.0 382.1L457.5 382.2L458.0 382.3L458.5 382.5L459.0 382.6L459.5 382.7L460.0 382.8L460.5 382.9L461.0 383.0L461.5 383.1L462.0 383.2L462.5 383.3L463.0 383.4L463.5 383.5L464.0 383.6L464.5 383.7L465.0 383.8L465.5 383.9L466.0 384.0L466.5 384.1L467.0 384.2L467.5 384.3L468.0 384.4L468.5 384.5L469.0 384.6L469.5 384.7L470.0 384.8L470.5 384.9L471.0 385.0L471.5 385.1L472.0 385.2L472.5 385.2L473.0 385.3L473.5 385.4L474.0 385.5L474.5 385.6L475.0 385.7L475.5 385.8L476.0 385.8L476.5 385.9L477.0 386.0L477.5 386.1L478.0 386.2L478.5 386.2L479.0 386.3L479.5 386.4L480.0 386.5L480.5 386.5L481.0 386.6L481.5 386.7L482.0 386.7L482.5 386.8L483.0 386.9L483.5 387.0L484.0 387.0L484.5 387.1L485.0 387.2L485.5 387.2L486.0 387.3L486.5 387.4L487.0 387.5L487.5 387.5L488.0 387.6L488.5 387.7L489.0 387.7L489.5 387.8L490.0 387.9L490.5 387.9L491.0 388.0L491.5 388.0L492.0 388.1L492.5 388.1L493.0 388.2L493.5 388.2L494.0 388.3L494.5 388.3L495.0 388.3L495.5 388.4L496.0 388.4L496.5 388.4L497.0 388.4L497.5 388.4L498.0 388.4L498.5 388.5L499.0 388.5L499.5 388.5L500.0 388.5L500.5 388.5L501.0 388.5L501.5 388.5L502.0 388.5L502.5 388.5L503.0 388.5L503.5 388.6L504.0 388.6L504.5 388.6L505.0 388.6L505.5 388.6L506.0 388.7L506.5 388.7L507.0 388.8L507.5 388.8L508.0 388.9L508.5 388.9L509.0 389.0L509.5 389.1L510.0 389.1L510.5 389.2L511.0 389.3L511.5 389.3L512.0 389.4L512.5 389.5L513.0 389.5L513.5 389.5L514.0 389.6L514.5 389.6L515.0 389.7L515.5 389.7L516.0 389.8L516.5 389.8L517.0 389.9L517.5 389.9L518.0 390.0L518.5 390.0L519.0 390.0L519.5 390.1L520.0 390.1L520.5 390.2L521.0 390.2L521.5 390.3L522.0 390.3L522.5 390.3L523.0 390.4L523.5 390.4L524.0 390.5L524.5 390.5L525.0 390.5L525.5 390.6L526.0 390.6L526.5 390.7L527.0 390.7L527.5 390.7L528.0 390.8L528.5 390.8L529.0 390.8L529.5 390.9L530.0 390.9L530.5 391.0L531.0 391.0L531.5 391.0L532.0 391.1L532.5 391.1L533.0 391.1L533.5 391.1L534.0 391.2" fill="none" stroke="#8a8a8a" stroke-width="0.8" stroke-dasharray="2,2.2"/>
<path d="M426.5 374.3L427.0 374.5L427.5 374.6L428.0 374.7L428.5 374.9L429.0 375.0L429.5 375.2L430.0 375.3L430.5 375.4L431.0 375.6L431.5 375.7L432.0 375.8L432.5 376.0L433.0 376.1L433.5 376.2L434.0 376.4L434.5 376.5L435.0 376.6L435.5 376.8L436.0 376.9L436.5 377.0L437.0 377.2L437.5 377.3L438.0 377.4L438.5 377.6L439.0 377.7L439.5 377.8L440.0 377.9L440.5 378.1L441.0 378.2L441.5 378.3L442.0 378.5L442.5 378.6L443.0 378.7L443.5 378.8L444.0 378.9L444.5 379.1L445.0 379.2L445.5 379.3L446.0 379.4L446.5 379.5L447.0 379.7L447.5 379.8L448.0 379.9L448.5 380.0L449.0 380.1L449.5 380.2L450.0 380.3L450.5 380.5L451.0 380.6L451.5 380.7L452.0 380.8L452.5 380.9L453.0 380.9L453.5 381.0L454.0 381.1L454.5 381.1L455.0 381.1L455.5 380.9L456.0 380.6L456.5 379.9L457.0 378.7L457.5 377.1L458.0 375.1L458.5 373.0L459.0 371.5L459.5 371.2L460.0 372.3L460.5 374.3L461.0 376.6L461.5 378.7L462.0 380.4L462.5 381.6L463.0 382.3L463.5 382.8L464.0 383.1L464.5 383.3L465.0 383.5L465.5 383.7L466.0 383.8L466.5 383.9L467.0 384.0L467.5 384.2L468.0 384.3L468.5 384.4L469.0 384.5L469.5 384.6L470.0 384.7L470.5 384.8L471.0 384.9L471.5 385.0L472.0 385.1L472.5 385.2L473.0 385.3L473.5 385.4L474.0 385.4L474.5 385.5L475.0 385.6L475.5 385.7L476.0 385.8L476.5 385.9L477.0 386.0L477.5 386.0L478.0 386.1L478.5 386.2L479.0 386.3L479.5 386.3L480.0 386.4L480.5 386.5L481.0 386.6L481.5 386.6L482.0 386.7L482.5 386.8L483.0 386.8L483.5 386.9L484.0 387.0L484.5 387.1L485.0 387.1L485.5 387.2L486.0 387.3L486.5 387.3L487.0 387.4L487.5 387.5L488.0 387.5L488.5 387.6L489.0 387.7L489.5 387.7L490.0 387.8L490.5 387.9L491.0 387.9L491.5 388.0L492.0 388.0L492.5 388.1L493.0 388.1L493.5 388.1L494.0 388.2L494.5 388.2L495.0 388.2L495.5 388.3L496.0 388.3L496.5 388.3L497.0 388.3L497.5 388.3L498.0 388.3L498.5 388.3L499.0 388.3L499.5 388.3L500.0 388.3L500.5 388.3L501.0 388.3L501.5 388.3L502.0 388.2L502.5 388.2L503.0 388.2L503.5 388.1L504.0 388.0L504.5 387.9L505.0 387.7L505.5 387.3L506.0 386.6L506.5 385.4L507.0 383.5L507.5 380.8L508.0 377.5L508.5 374.2L509.0 371.7L509.5 371.1L510.0 372.7L510.5 375.8L511.0 379.3L511.5 382.5L512.0 385.0L512.5 386.7L513.0 387.8L513.5 388.4L514.0 388.8L514.5 389.0L515.0 389.2L515.5 389.3L516.0 389.4L516.5 389.5L517.0 389.6L517.5 389.7L518.0 389.7L518.5 389.8L519.0 389.9L519.5 389.9L520.0 390.0L520.5 390.0L521.0 390.1L521.5 390.1L522.0 390.2L522.5 390.2L523.0 390.3L523.5 390.3L524.0 390.4L524.5 390.4L525.0 390.5L525.5 390.5L526.0 390.6L526.5 390.6L527.0 390.6L527.5 390.7L528.0 390.7L528.5 390.8L529.0 390.8L529.5 390.8L530.0 390.9L530.5 390.9L531.0 390.9L531.5 391.0L532.0 391.0L532.5 391.1L533.0 391.1L533.5 391.1L534.0 391.1" fill="none" stroke="#2424ff" stroke-width="1.35" stroke-linejoin="round"/>
<path d="M426.5 374.1L427.0 374.2L427.5 374.4L428.0 374.5L428.5 374.6L429.0 374.8L429.5 374.9L430.0 375.0L430.5 375.2L431.0 375.3L431.5 375.4L432.0 375.5L432.5 375.7L433.0 375.8L433.5 375.9L434.0 376.0L434.5 376.1L435.0 376.3L435.5 376.4L436.0 376.5L436.5 376.6L437.0 376.7L437.5 376.8L438.0 376.9L438.5 377.0L439.0 377.1L439.5 377.2L440.0 377.3L440.5 377.4L441.0 377.5L441.5 377.6L442.0 377.6L442.5 377.7L443.0 377.8L443.5 377.8L444.0 377.8L444.5 377.8L445.0 377.8L445.5 377.8L446.0 377.6L446.5 377.3L447.0 376.9L447.5 376.1L448.0 375.0L448.5 373.2L449.0 370.8L449.5 367.4L450.0 363.0L450.5 357.6L451.0 351.1L451.5 343.9L452.0 336.3L452.5 328.9L453.0 322.5L453.5 317.8L454.0 315.6L454.5 316.4L455.0 320.9L455.5 328.1L456.0 336.9L456.5 346.1L457.0 354.6L457.5 362.0L458.0 368.0L458.5 372.5L459.0 375.7L459.5 377.9L460.0 379.3L460.5 380.3L461.0 380.9L461.5 381.4L462.0 381.7L462.5 382.0L463.0 382.2L463.5 382.4L464.0 382.5L464.5 382.7L465.0 382.9L465.5 383.0L466.0 383.1L466.5 383.3L467.0 383.4L467.5 383.5L468.0 383.6L468.5 383.7L469.0 383.9L469.5 384.0L470.0 384.1L470.5 384.2L471.0 384.3L471.5 384.4L472.0 384.4L472.5 384.5L473.0 384.6L473.5 384.7L474.0 384.8L474.5 384.9L475.0 384.9L475.5 385.0L476.0 385.1L476.5 385.1L477.0 385.2L477.5 385.3L478.0 385.3L478.5 385.4L479.0 385.4L479.5 385.5L480.0 385.5L480.5 385.6L481.0 385.6L481.5 385.6L482.0 385.7L482.5 385.7L483.0 385.7L483.5 385.8L484.0 385.8L484.5 385.8L485.0 385.8L485.5 385.8L486.0 385.8L486.5 385.8L487.0 385.8L487.5 385.8L488.0 385.8L488.5 385.7L489.0 385.7L489.5 385.6L490.0 385.5L490.5 385.4L491.0 385.3L491.5 385.1L492.0 385.0L492.5 384.8L493.0 384.5L493.5 384.3L494.0 383.9L494.5 383.5L495.0 383.1L495.5 382.5L496.0 381.7L496.5 380.7L497.0 379.4L497.5 377.7L498.0 375.4L498.5 372.4L499.0 368.5L499.5 363.6L500.0 357.5L500.5 350.2L501.0 341.8L501.5 332.3L502.0 322.2L502.5 312.1L503.0 302.9L503.5 295.8L504.0 291.9L504.5 292.4L505.0 298.0L505.5 307.7L506.0 319.3L506.5 331.3L507.0 342.6L507.5 352.4L508.0 360.6L508.5 367.1L509.0 372.1L509.5 375.9L510.0 378.6L510.5 380.6L511.0 382.1L511.5 383.2L512.0 384.0L512.5 384.7L513.0 385.3L513.5 385.7L514.0 386.1L514.5 386.5L515.0 386.8L515.5 387.1L516.0 387.4L516.5 387.6L517.0 387.8L517.5 388.0L518.0 388.2L518.5 388.3L519.0 388.5L519.5 388.6L520.0 388.7L520.5 388.9L521.0 389.0L521.5 389.1L522.0 389.2L522.5 389.3L523.0 389.4L523.5 389.5L524.0 389.6L524.5 389.7L525.0 389.7L525.5 389.8L526.0 389.9L526.5 390.0L527.0 390.0L527.5 390.1L528.0 390.1L528.5 390.2L529.0 390.3L529.5 390.3L530.0 390.4L530.5 390.4L531.0 390.5L531.5 390.5L532.0 390.6L532.5 390.6L533.0 390.7L533.5 390.7L534.0 390.8" fill="none" stroke="#ff1f1f" stroke-width="1.35" stroke-linejoin="round"/>
<path d="M426.5 374.1L427.0 374.2L427.5 374.4L428.0 374.5L428.5 374.6L429.0 374.8L429.5 374.9L430.0 375.0L430.5 375.1L431.0 375.3L431.5 375.4L432.0 375.5L432.5 375.6L433.0 375.8L433.5 375.9L434.0 376.0L434.5 376.1L435.0 376.2L435.5 376.4L436.0 376.5L436.5 376.6L437.0 376.7L437.5 376.8L438.0 376.9L438.5 377.0L439.0 377.1L439.5 377.2L440.0 377.3L440.5 377.4L441.0 377.5L441.5 377.5L442.0 377.6L442.5 377.7L443.0 377.7L443.5 377.8L444.0 377.8L444.5 377.8L445.0 377.8L445.5 377.7L446.0 377.5L446.5 377.3L447.0 376.8L447.5 376.1L448.0 374.9L448.5 373.2L449.0 370.7L449.5 367.3L450.0 362.9L450.5 357.4L451.0 350.9L451.5 343.7L452.0 336.1L452.5 328.7L453.0 322.3L453.5 317.5L454.0 315.2L454.5 315.7L455.0 318.9L455.5 324.2L456.0 330.7L456.5 337.6L457.0 344.1L457.5 349.6L458.0 353.9L458.5 357.1L459.0 359.7L459.5 362.6L460.0 366.0L460.5 369.7L461.0 373.1L461.5 376.0L462.0 378.1L462.5 379.7L463.0 380.7L463.5 381.3L464.0 381.7L464.5 382.0L465.0 382.3L465.5 382.5L466.0 382.7L466.5 382.9L467.0 383.0L467.5 383.2L468.0 383.3L468.5 383.5L469.0 383.6L469.5 383.7L470.0 383.8L470.5 384.0L471.0 384.1L471.5 384.2L472.0 384.3L472.5 384.4L473.0 384.5L473.5 384.6L474.0 384.6L474.5 384.7L475.0 384.8L475.5 384.9L476.0 385.0L476.5 385.0L477.0 385.1L477.5 385.2L478.0 385.2L478.5 385.3L479.0 385.3L479.5 385.4L480.0 385.4L480.5 385.5L481.0 385.5L481.5 385.6L482.0 385.6L482.5 385.6L483.0 385.7L483.5 385.7L484.0 385.7L484.5 385.7L485.0 385.7L485.5 385.7L486.0 385.7L486.5 385.7L487.0 385.7L487.5 385.7L488.0 385.7L488.5 385.6L489.0 385.6L489.5 385.5L490.0 385.4L490.5 385.3L491.0 385.2L491.5 385.1L492.0 384.9L492.5 384.7L493.0 384.5L493.5 384.2L494.0 383.8L494.5 383.4L495.0 383.0L495.5 382.3L496.0 381.6L496.5 380.6L497.0 379.3L497.5 377.5L498.0 375.2L498.5 372.2L499.0 368.3L499.5 363.4L500.0 357.3L500.5 350.0L501.0 341.5L501.5 332.0L502.0 321.9L502.5 311.8L503.0 302.5L503.5 295.3L504.0 291.4L504.5 291.4L505.0 295.4L505.5 302.4L506.0 311.0L506.5 319.9L507.0 328.0L507.5 334.8L508.0 339.9L508.5 343.8L509.0 347.3L509.5 351.5L510.0 356.9L510.5 362.9L511.0 368.7L511.5 373.6L512.0 377.4L512.5 380.1L513.0 382.0L513.5 383.2L514.0 384.1L514.5 384.8L515.0 385.3L515.5 385.7L516.0 386.1L516.5 386.5L517.0 386.8L517.5 387.0L518.0 387.3L518.5 387.5L519.0 387.7L519.5 387.9L520.0 388.1L520.5 388.3L521.0 388.4L521.5 388.5L522.0 388.7L522.5 388.8L523.0 388.9L523.5 389.0L524.0 389.2L524.5 389.3L525.0 389.4L525.5 389.5L526.0 389.5L526.5 389.6L527.0 389.7L527.5 389.8L528.0 389.9L528.5 389.9L529.0 390.0L529.5 390.1L530.0 390.1L530.5 390.2L531.0 390.3L531.5 390.3L532.0 390.4L532.5 390.4L533.0 390.5L533.5 390.5L534.0 390.6" fill="none" stroke="#111" stroke-width="1.35" stroke-linejoin="round"/>
<text x="46" y="24" font-family="Liberation Serif" font-size="12" font-weight="normal" fill="#000" text-anchor="start" stroke="#000" stroke-width="0.15" >(a)</text>
<text x="127.8" y="24" font-family="Liberation Serif" font-size="12" font-weight="bold" fill="#000" text-anchor="end" stroke="#000" stroke-width="0.15" >Cs3d</text>
<text x="174.6" y="25.5" font-family="Liberation Serif" font-size="12" font-weight="normal" fill="#000" text-anchor="start" stroke="#000" stroke-width="0.15" >(b)</text>
<text x="275.6" y="24" font-family="Liberation Serif" font-size="12" font-weight="bold" fill="#000" text-anchor="end" stroke="#000" stroke-width="0.15" >Pb4f</text>
<text x="304.5" y="26.3" font-family="Liberation Serif" font-size="12" font-weight="normal" fill="#000" text-anchor="start" stroke="#000" stroke-width="0.15" >(c)</text>
<text x="404.3" y="23.2" font-family="Liberation Serif" font-size="12" font-weight="bold" fill="#000" text-anchor="end" stroke="#000" stroke-width="0.15" >Br3d</text>
<text x="430" y="23.5" font-family="Liberation Serif" font-size="12" font-weight="normal" fill="#000" text-anchor="start" stroke="#000" stroke-width="0.15" >(d)</text>
<text x="532.6" y="23" font-family="Liberation Serif" font-size="12" font-weight="bold" fill="#000" text-anchor="end" stroke="#000" stroke-width="0.15" >Cl2p</text>
<text x="431" y="291" font-family="Liberation Serif" font-size="12" font-weight="normal" fill="#000" text-anchor="start" stroke="#000" stroke-width="0.15" >(e)</text>
<text x="530" y="291.2" font-family="Liberation Serif" font-size="12" font-weight="bold" fill="#000" text-anchor="end" stroke="#000" stroke-width="0.15" >I3d</text>
<text x="95.2" y="48" font-family="Liberation Serif" font-size="7.7" font-weight="normal" fill="#000" text-anchor="start" stroke="#000" stroke-width="0.15" >Cs3d<tspan font-size="4.7" dy="2.6">5/2</tspan><tspan dy="-2.6">(I)</tspan></text>
<text x="69" y="69.4" font-family="Liberation Serif" font-size="7.7" font-weight="normal" fill="#000" text-anchor="start" stroke="#000" stroke-width="0.15" >Cs3d<tspan font-size="4.7" dy="2.6">3/2</tspan><tspan dy="-2.6">(I)</tspan></text>
<text x="97.5" y="167" font-family="Liberation Serif" font-size="7.7" font-weight="normal" fill="#000" text-anchor="start" stroke="#000" stroke-width="0.15" >Cs3d<tspan font-size="4.7" dy="2.6">5/2</tspan><tspan dy="-2.6">(I)</tspan></text>
<text x="67.5" y="193.5" font-family="Liberation Serif" font-size="7.7" font-weight="normal" fill="#000" text-anchor="start" stroke="#000" stroke-width="0.15" >Cs3d<tspan font-size="4.7" dy="2.6">3/2</tspan><tspan dy="-2.6">(I)</tspan></text>
<text x="84.2" y="317" font-family="Liberation Serif" font-size="7.7" font-weight="normal" fill="#000" text-anchor="start" stroke="#000" stroke-width="0.15" >Cs3d<tspan font-size="4.7" dy="2.6">5/2</tspan><tspan dy="-2.6">(III)</tspan></text>
<text transform="translate(148.3,340.5) rotate(-90)" font-family="Liberation Serif" font-size="7.7" fill="#000" stroke="#000" stroke-width="0.18">Cs3d<tspan font-size="4.7" dy="2.6">5/2</tspan><tspan dy="-2.6">(II)</tspan></text>
<text x="251.2" y="45.3" font-family="Liberation Serif" font-size="7.7" font-weight="normal" fill="#000" text-anchor="start" stroke="#000" stroke-width="0.15" >Pb4f<tspan font-size="4.7" dy="2.6">7/2</tspan><tspan dy="-2.6">(I)</tspan></text>
<text x="249.8" y="81.4" font-family="Liberation Serif" font-size="7.7" font-weight="normal" fill="#000" text-anchor="start" stroke="#000" stroke-width="0.15" >Pb4f<tspan font-size="4.7" dy="2.6">7/2</tspan><tspan dy="-2.6">(II)</tspan></text>
<text x="195.9" y="167.8" font-family="Liberation Serif" font-size="7.7" font-weight="normal" fill="#000" text-anchor="start" stroke="#000" stroke-width="0.15" >Pb4f<tspan font-size="4.7" dy="2.6">5/2</tspan><tspan dy="-2.6">(I)</tspan></text>
<text x="248" y="156" font-family="Liberation Serif" font-size="7.7" font-weight="normal" fill="#000" text-anchor="start" stroke="#000" stroke-width="0.15" >Pb4f<tspan font-size="4.7" dy="2.6">7/2</tspan><tspan dy="-2.6">(I)</tspan></text>
<text transform="translate(224.5,241) rotate(-90)" font-family="Liberation Serif" font-size="7.7" fill="#000" stroke="#000" stroke-width="0.18">Pb4f<tspan font-size="4.7" dy="2.6">5/2</tspan><tspan dy="-2.6">(II)</tspan></text>
<text transform="translate(262.3,246.7) rotate(-90)" font-family="Liberation Serif" font-size="7.7" fill="#000" stroke="#000" stroke-width="0.18">Pb4f<tspan font-size="4.7" dy="2.6">7/2</tspan><tspan dy="-2.6">(II)</tspan></text>
<text x="245.5" y="296" font-family="Liberation Serif" font-size="7.7" font-weight="normal" fill="#000" text-anchor="start" stroke="#000" stroke-width="0.15" >Pb4f<tspan font-size="4.7" dy="2.6">7/2</tspan><tspan dy="-2.6">(III)</tspan></text>
<text x="246.2" y="333.1" font-family="Liberation Serif" font-size="7.7" font-weight="normal" fill="#000" text-anchor="start" stroke="#000" stroke-width="0.15" >Pb4f<tspan font-size="4.7" dy="2.6">7/2</tspan><tspan dy="-2.6">(II)</tspan></text>
<text x="371" y="305" font-family="Liberation Serif" font-size="7.7" font-weight="normal" fill="#000" text-anchor="start" stroke="#000" stroke-width="0.15" >Br3d<tspan font-size="4.7" dy="2.6">5/2</tspan><tspan dy="-2.6">(II)</tspan></text>
<text x="372.8" y="356.2" font-family="Liberation Serif" font-size="7.7" font-weight="normal" fill="#000" text-anchor="start" stroke="#000" stroke-width="0.15" >Br3d<tspan font-size="4.7" dy="2.6">5/2</tspan><tspan dy="-2.6">(I)</tspan></text>
<text x="458" y="292" font-family="Liberation Serif" font-size="7.7" font-weight="normal" fill="#000" text-anchor="start" stroke="#000" stroke-width="0.15" >I3d<tspan font-size="4.7" dy="2.6">5/2</tspan><tspan dy="-2.6">(II)</tspan></text>
<text transform="translate(527.3,347.6) rotate(-90)" font-family="Liberation Serif" font-size="7.7" fill="#000" stroke="#000" stroke-width="0.18">I3d<tspan font-size="4.7" dy="2.6">5/2</tspan><tspan dy="-2.6">(I)</tspan></text>
<line x1="108.3" y1="320.5" x2="116.6" y2="340.5" stroke="#777" stroke-width="0.6"/>
<path d="M116.60,340.50 L113.42,337.27 L116.56,335.97 Z" fill="#111"/>
<line x1="141.6" y1="341.8" x2="137.1" y2="366.8" stroke="#777" stroke-width="0.6"/>
<path d="M137.10,366.80 L136.17,362.37 L139.52,362.97 Z" fill="#111"/>
<line x1="262" y1="49.2" x2="249.2" y2="64.3" stroke="#777" stroke-width="0.6"/>
<path d="M249.20,64.30 L250.62,60.00 L253.21,62.20 Z" fill="#111"/>
<line x1="263.9" y1="82" x2="259.2" y2="114.9" stroke="#777" stroke-width="0.6"/>
<path d="M259.20,114.90 L258.11,110.50 L261.48,110.98 Z" fill="#111"/>
<line x1="220.4" y1="243.9" x2="220.4" y2="257.6" stroke="#777" stroke-width="0.6"/>
<path d="M220.40,257.60 L218.70,253.40 L222.10,253.40 Z" fill="#111"/>
<line x1="257" y1="250.4" x2="254.8" y2="260" stroke="#777" stroke-width="0.6"/>
<path d="M254.80,260.00 L254.08,255.53 L257.40,256.29 Z" fill="#111"/>
<line x1="249" y1="299.5" x2="239" y2="312.9" stroke="#777" stroke-width="0.6"/>
<path d="M239.00,312.90 L240.15,308.52 L242.87,310.55 Z" fill="#111"/>
<line x1="258" y1="336" x2="246.6" y2="352.4" stroke="#777" stroke-width="0.6"/>
<path d="M246.60,352.40 L247.60,347.98 L250.39,349.92 Z" fill="#111"/>
<line x1="370.3" y1="306" x2="352.9" y2="314.2" stroke="#777" stroke-width="0.6"/>
<path d="M352.90,314.20 L355.97,310.87 L357.42,313.95 Z" fill="#111"/>
<line x1="371.5" y1="357.6" x2="360.6" y2="367.9" stroke="#777" stroke-width="0.6"/>
<path d="M360.60,367.90 L362.49,363.78 L364.82,366.25 Z" fill="#111"/>
<line x1="484.5" y1="291.2" x2="498" y2="305.4" stroke="#777" stroke-width="0.6"/>
<path d="M498.00,305.40 L493.87,303.53 L496.34,301.18 Z" fill="#111"/>
<line x1="523.2" y1="349" x2="512.9" y2="368.4" stroke="#777" stroke-width="0.6"/>
<path d="M512.90,368.40 L513.37,363.89 L516.37,365.49 Z" fill="#111"/>
<text x="53.6" y="414.8" font-family="Liberation Serif" font-size="9" font-weight="normal" fill="#111" text-anchor="middle"  >740</text>
<text x="78.2" y="414.8" font-family="Liberation Serif" font-size="9" font-weight="normal" fill="#111" text-anchor="middle"  >735</text>
<text x="102.80000000000001" y="414.8" font-family="Liberation Serif" font-size="9" font-weight="normal" fill="#111" text-anchor="middle"  >730</text>
<text x="127.4" y="414.8" font-family="Liberation Serif" font-size="9" font-weight="normal" fill="#111" text-anchor="middle"  >725</text>
<text x="152.0" y="414.8" font-family="Liberation Serif" font-size="9" font-weight="normal" fill="#111" text-anchor="middle"  >720</text>
<text x="179.3" y="416.4" font-family="Liberation Serif" font-size="9" font-weight="normal" fill="#111" text-anchor="middle"  >147</text>
<text x="201.02" y="416.4" font-family="Liberation Serif" font-size="9" font-weight="normal" fill="#111" text-anchor="middle"  >144</text>
<text x="222.74" y="416.4" font-family="Liberation Serif" font-size="9" font-weight="normal" fill="#111" text-anchor="middle"  >141</text>
<text x="244.46" y="416.4" font-family="Liberation Serif" font-size="9" font-weight="normal" fill="#111" text-anchor="middle"  >138</text>
<text x="266.18" y="416.4" font-family="Liberation Serif" font-size="9" font-weight="normal" fill="#111" text-anchor="middle"  >135</text>
<text x="307.3" y="416.4" font-family="Liberation Serif" font-size="9" font-weight="normal" fill="#111" text-anchor="middle"  >72</text>
<text x="336.23" y="416.4" font-family="Liberation Serif" font-size="9" font-weight="normal" fill="#111" text-anchor="middle"  >70</text>
<text x="365.16" y="416.4" font-family="Liberation Serif" font-size="9" font-weight="normal" fill="#111" text-anchor="middle"  >68</text>
<text x="394.09000000000003" y="416.4" font-family="Liberation Serif" font-size="9" font-weight="normal" fill="#111" text-anchor="middle"  >66</text>
<text x="438.6" y="414.8" font-family="Liberation Serif" font-size="9" font-weight="normal" fill="#111" text-anchor="middle"  >635</text>
<text x="460.35" y="414.8" font-family="Liberation Serif" font-size="9" font-weight="normal" fill="#111" text-anchor="middle"  >630</text>
<text x="482.1" y="414.8" font-family="Liberation Serif" font-size="9" font-weight="normal" fill="#111" text-anchor="middle"  >625</text>
<text x="503.85" y="414.8" font-family="Liberation Serif" font-size="9" font-weight="normal" fill="#111" text-anchor="middle"  >620</text>
<text x="525.6" y="414.8" font-family="Liberation Serif" font-size="9" font-weight="normal" fill="#111" text-anchor="middle"  >615</text>
<text x="434.0" y="150.3" font-family="Liberation Serif" font-size="9" font-weight="normal" fill="#111" text-anchor="middle"  >204</text>
<text x="459.08" y="150.3" font-family="Liberation Serif" font-size="9" font-weight="normal" fill="#111" text-anchor="middle"  >201</text>
<text x="484.15999999999997" y="150.3" font-family="Liberation Serif" font-size="9" font-weight="normal" fill="#111" text-anchor="middle"  >198</text>
<text x="509.24" y="150.3" font-family="Liberation Serif" font-size="9" font-weight="normal" fill="#111" text-anchor="middle"  >195</text>
<text x="534.3199999999999" y="150.3" font-family="Liberation Serif" font-size="9" font-weight="normal" fill="#111" text-anchor="middle"  >192</text>
<line x1="53.6" y1="404.3" x2="53.6" y2="406.3" stroke="#bbb" stroke-width="0.8"/>
<line x1="78.2" y1="404.3" x2="78.2" y2="406.3" stroke="#bbb" stroke-width="0.8"/>
<line x1="102.80000000000001" y1="404.3" x2="102.80000000000001" y2="406.3" stroke="#bbb" stroke-width="0.8"/>
<line x1="127.4" y1="404.3" x2="127.4" y2="406.3" stroke="#bbb" stroke-width="0.8"/>
<line x1="152.0" y1="404.3" x2="152.0" y2="406.3" stroke="#bbb" stroke-width="0.8"/>
<line x1="179.3" y1="405.3" x2="179.3" y2="407.3" stroke="#bbb" stroke-width="0.8"/>
<line x1="201.02" y1="405.3" x2="201.02" y2="407.3" stroke="#bbb" stroke-width="0.8"/>
<line x1="222.74" y1="405.3" x2="222.74" y2="407.3" stroke="#bbb" stroke-width="0.8"/>
<line x1="244.46" y1="405.3" x2="244.46" y2="407.3" stroke="#bbb" stroke-width="0.8"/>
<line x1="266.18" y1="405.3" x2="266.18" y2="407.3" stroke="#bbb" stroke-width="0.8"/>
<line x1="307.3" y1="405" x2="307.3" y2="407" stroke="#bbb" stroke-width="0.8"/>
<line x1="336.23" y1="405" x2="336.23" y2="407" stroke="#bbb" stroke-width="0.8"/>
<line x1="365.16" y1="405" x2="365.16" y2="407" stroke="#bbb" stroke-width="0.8"/>
<line x1="394.09000000000003" y1="405" x2="394.09000000000003" y2="407" stroke="#bbb" stroke-width="0.8"/>
<line x1="438.6" y1="405" x2="438.6" y2="407" stroke="#bbb" stroke-width="0.8"/>
<line x1="460.35" y1="405" x2="460.35" y2="407" stroke="#bbb" stroke-width="0.8"/>
<line x1="482.1" y1="405" x2="482.1" y2="407" stroke="#bbb" stroke-width="0.8"/>
<line x1="503.85" y1="405" x2="503.85" y2="407" stroke="#bbb" stroke-width="0.8"/>
<line x1="525.6" y1="405" x2="525.6" y2="407" stroke="#bbb" stroke-width="0.8"/>
<line x1="434.0" y1="141" x2="434.0" y2="143" stroke="#bbb" stroke-width="0.8"/>
<line x1="459.08" y1="141" x2="459.08" y2="143" stroke="#bbb" stroke-width="0.8"/>
<line x1="484.15999999999997" y1="141" x2="484.15999999999997" y2="143" stroke="#bbb" stroke-width="0.8"/>
<line x1="509.24" y1="141" x2="509.24" y2="143" stroke="#bbb" stroke-width="0.8"/>
<line x1="534.3199999999999" y1="141" x2="534.3199999999999" y2="143" stroke="#bbb" stroke-width="0.8"/>
<line x1="65.9" y1="404.3" x2="65.9" y2="405.6" stroke="#ccc" stroke-width="0.7"/>
<line x1="90.5" y1="404.3" x2="90.5" y2="405.6" stroke="#ccc" stroke-width="0.7"/>
<line x1="115.1" y1="404.3" x2="115.1" y2="405.6" stroke="#ccc" stroke-width="0.7"/>
<line x1="139.7" y1="404.3" x2="139.7" y2="405.6" stroke="#ccc" stroke-width="0.7"/>
<line x1="190.2" y1="405.3" x2="190.2" y2="406.6" stroke="#ccc" stroke-width="0.7"/>
<line x1="211.9" y1="405.3" x2="211.9" y2="406.6" stroke="#ccc" stroke-width="0.7"/>
<line x1="233.6" y1="405.3" x2="233.6" y2="406.6" stroke="#ccc" stroke-width="0.7"/>
<line x1="255.3" y1="405.3" x2="255.3" y2="406.6" stroke="#ccc" stroke-width="0.7"/>
<line x1="277.0" y1="405.3" x2="277.0" y2="406.6" stroke="#ccc" stroke-width="0.7"/>
<line x1="321.8" y1="405" x2="321.8" y2="406.3" stroke="#ccc" stroke-width="0.7"/>
<line x1="350.7" y1="405" x2="350.7" y2="406.3" stroke="#ccc" stroke-width="0.7"/>
<line x1="379.6" y1="405" x2="379.6" y2="406.3" stroke="#ccc" stroke-width="0.7"/>
<line x1="408.6" y1="405" x2="408.6" y2="406.3" stroke="#ccc" stroke-width="0.7"/>
<line x1="449.5" y1="405" x2="449.5" y2="406.3" stroke="#ccc" stroke-width="0.7"/>
<line x1="471.2" y1="405" x2="471.2" y2="406.3" stroke="#ccc" stroke-width="0.7"/>
<line x1="493.0" y1="405" x2="493.0" y2="406.3" stroke="#ccc" stroke-width="0.7"/>
<line x1="514.7" y1="405" x2="514.7" y2="406.3" stroke="#ccc" stroke-width="0.7"/>
<line x1="446.5" y1="141" x2="446.5" y2="142.3" stroke="#ccc" stroke-width="0.7"/>
<line x1="471.6" y1="141" x2="471.6" y2="142.3" stroke="#ccc" stroke-width="0.7"/>
<line x1="496.7" y1="141" x2="496.7" y2="142.3" stroke="#ccc" stroke-width="0.7"/>
<line x1="521.8" y1="141" x2="521.8" y2="142.3" stroke="#ccc" stroke-width="0.7"/>
<text x="101.4" y="429.9" font-family="Liberation Serif" font-size="9" font-weight="normal" fill="#000" text-anchor="middle"  >Binding Energy, eV</text>
<text x="226.7" y="429.9" font-family="Liberation Serif" font-size="9" font-weight="normal" fill="#000" text-anchor="middle"  >Binding Energy, eV</text>
<text x="356.8" y="429.9" font-family="Liberation Serif" font-size="9" font-weight="normal" fill="#000" text-anchor="middle"  >Binding Energy, eV</text>
<text x="480.2" y="429.9" font-family="Liberation Serif" font-size="9" font-weight="normal" fill="#000" text-anchor="middle"  >Binding Energy, eV</text>
<text x="480.2" y="164.1" font-family="Liberation Serif" font-size="9" font-weight="normal" fill="#000" text-anchor="middle"  >Binding Energy, eV</text>
<text transform="translate(21.9,119.2) rotate(-90)" font-family="Liberation Serif" font-size="18.5" font-weight="bold" fill="#8000ff">CsPb(Br/Cl)</text>
<text transform="translate(28.1,20.4) rotate(-90)" font-family="Liberation Serif" font-size="10.5" font-weight="bold" fill="#8000ff">3</text>
<text transform="translate(21.9,245.2) rotate(-90)" font-family="Liberation Serif" font-size="18.5" font-weight="bold" fill="#138888">CsPbBr</text>
<text transform="translate(28.1,182.4) rotate(-90)" font-family="Liberation Serif" font-size="10.5" font-weight="bold" fill="#138888">3</text>
<text transform="translate(21.9,384.2) rotate(-90)" font-family="Liberation Serif" font-size="18.5" font-weight="bold" fill="#8c0a0a">CsPb(I/Br)</text>
<text transform="translate(28.1,296.9) rotate(-90)" font-family="Liberation Serif" font-size="10.5" font-weight="bold" fill="#8c0a0a">3</text>
<text transform="translate(37.3,246.5) rotate(-90)" font-family="Liberation Serif" font-size="14.35" fill="#111">Intensity, a.u.</text>
</svg>
</body></html>
